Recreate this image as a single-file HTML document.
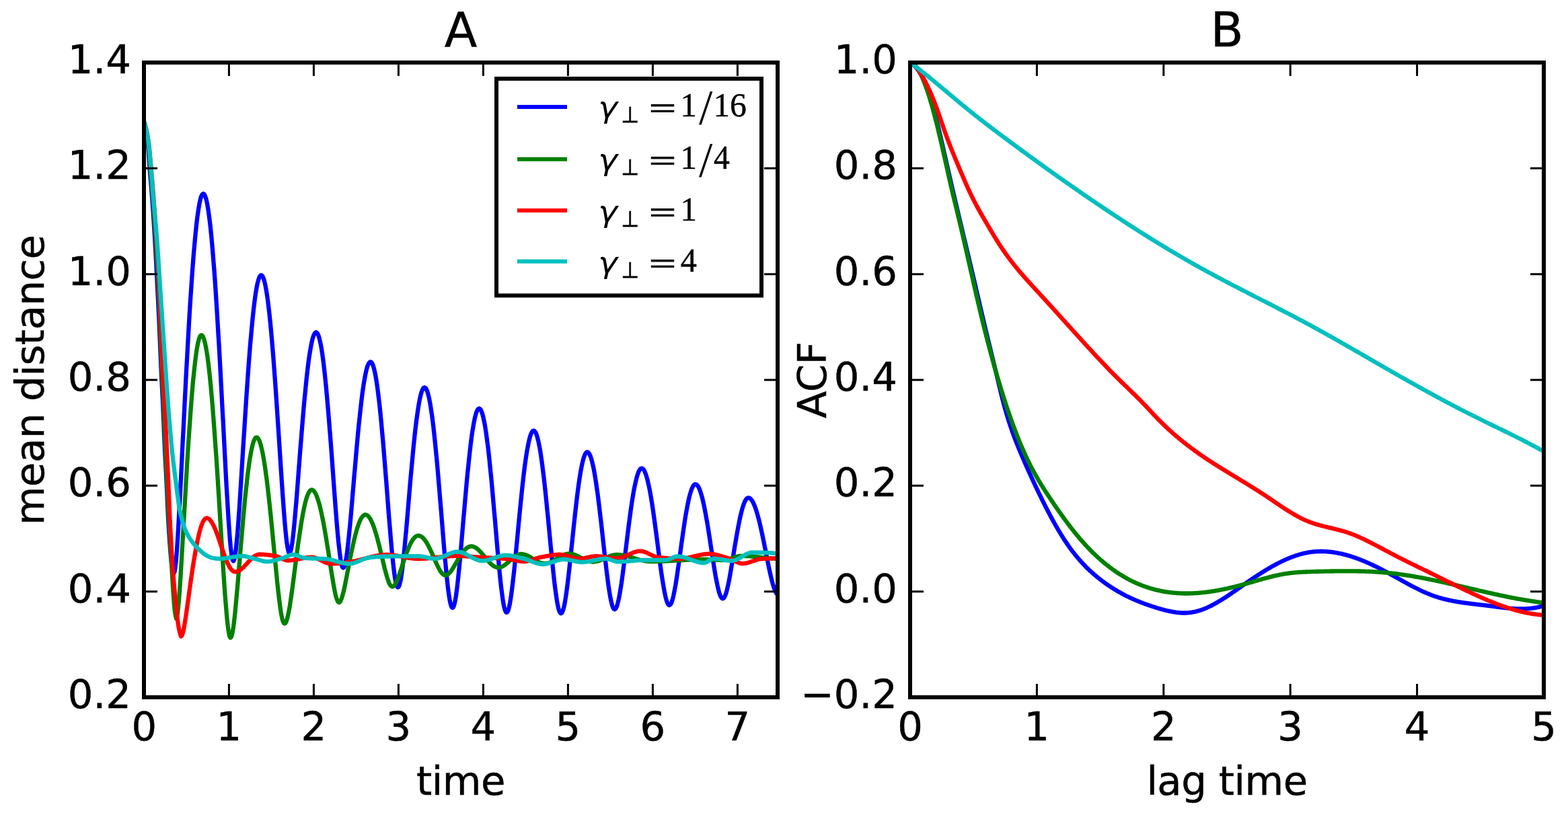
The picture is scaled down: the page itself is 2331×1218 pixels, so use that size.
<!DOCTYPE html>
<html lang="en">
<head>
<meta charset="utf-8">
<title>Mean distance and ACF</title>
<style>
html,body{margin:0;padding:0;background:#fff;}
body{width:2331px;height:1218px;overflow:hidden;}
svg{display:block;}
text{font-family:"DejaVu Sans", "Liberation Sans", sans-serif;fill:#000;}
.tk,.ttl{stroke:#000;stroke-width:0.5px;}
.lab{letter-spacing:-0.45px;}
.tk{font-size:59.2px;}
.ttl{font-size:71px;}
.sp{fill:none;stroke:#000;stroke-width:6;stroke-linejoin:miter;}
.t{stroke:#000;stroke-width:3;fill:none;}
.ls{font-family:"Liberation Serif","DejaVu Serif",serif;}
.lsi{font-family:"Liberation Serif","DejaVu Serif",serif;font-style:italic;}
.ds{font-family:"DejaVu Sans",sans-serif;}
.dso{font-family:"DejaVu Sans",sans-serif;font-style:italic;}
.dse{font-family:"DejaVu Serif","Liberation Serif",serif;}
.c{fill:none;stroke-width:6.3;stroke-linejoin:round;stroke-linecap:butt;}
</style>
</head>
<body>
<svg width="2331" height="1218" viewBox="0 0 2331 1218">
<rect x="0" y="0" width="2331" height="1218" fill="#ffffff"/>
<defs>
<clipPath id="clipA"><rect x="214" y="93" width="942" height="944"/></clipPath>
<clipPath id="clipB"><rect x="1353" y="93" width="942" height="944"/></clipPath>
</defs>
<g>
<g clip-path="url(#clipA)">
<path class="c" stroke="#0000ff" d="M214.0 181.0 L215.0 184.1 L216.0 188.2 L217.0 193.0 L218.0 198.7 L219.0 205.9 L220.0 215.1 L221.0 228.6 L222.0 243.5 L223.0 256.5 L224.0 268.2 L225.0 279.9 L226.0 292.3 L227.0 305.9 L228.0 320.4 L229.0 335.7 L230.0 351.8 L231.0 369.0 L232.0 387.7 L233.0 407.2 L234.0 426.8 L235.0 446.5 L236.0 466.8 L237.0 488.6 L238.0 512.7 L239.0 536.8 L240.0 558.3 L241.0 578.1 L242.0 598.2 L243.0 620.7 L244.0 645.5 L245.0 668.6 L246.0 687.8 L247.0 706.0 L248.0 726.6 L249.0 749.1 L250.0 769.9 L251.0 787.3 L252.0 802.9 L253.0 816.2 L254.0 828.4 L255.0 838.3 L256.0 844.4 L257.0 849.2 L258.4 852.5 L259.4 850.6 L260.4 845.1 L261.5 836.3 L262.5 824.6 L263.5 810.6 L264.5 794.7 L265.5 777.3 L266.5 758.7 L267.6 739.4 L268.6 719.4 L269.6 699.1 L270.6 678.6 L271.6 658.0 L272.7 637.4 L273.7 616.9 L274.7 596.7 L275.7 576.8 L276.7 557.1 L277.8 538.0 L278.8 519.2 L279.8 501.0 L280.8 483.3 L281.8 466.2 L282.8 449.7 L283.9 433.9 L284.9 418.8 L285.9 404.4 L286.9 390.8 L287.9 377.9 L289.0 365.8 L290.0 354.5 L291.0 344.1 L292.0 334.5 L293.0 325.7 L294.1 317.9 L295.1 310.9 L296.1 304.9 L297.1 299.7 L298.1 295.5 L299.1 292.2 L300.2 289.9 L301.2 288.5 L302.2 288.0 L303.2 288.5 L304.2 289.9 L305.2 292.2 L306.3 295.4 L307.3 299.5 L308.3 304.6 L309.3 310.5 L310.3 317.4 L311.3 325.1 L312.4 333.7 L313.4 343.1 L314.4 353.3 L315.4 364.4 L316.4 376.2 L317.4 388.9 L318.5 402.2 L319.5 416.3 L320.5 431.1 L321.5 446.5 L322.5 462.5 L323.5 479.1 L324.5 496.3 L325.6 514.0 L326.6 532.1 L327.6 550.6 L328.6 569.5 L329.6 588.6 L330.6 607.9 L331.7 627.4 L332.7 646.9 L333.7 666.4 L334.7 685.6 L335.7 704.6 L336.7 723.1 L337.8 740.9 L338.8 758.0 L339.8 774.0 L340.8 788.6 L341.8 801.8 L342.8 813.0 L343.9 822.2 L344.9 829.0 L345.9 833.1 L346.9 834.5 L347.9 833.2 L348.9 829.5 L349.9 823.5 L350.9 815.4 L351.9 805.4 L353.0 793.9 L354.0 781.1 L355.0 767.3 L356.0 752.6 L357.0 737.3 L358.0 721.5 L359.0 705.5 L360.0 689.3 L361.0 673.0 L362.0 656.7 L363.1 640.6 L364.1 624.6 L365.1 609.0 L366.1 593.6 L367.1 578.6 L368.1 564.1 L369.1 550.0 L370.1 536.4 L371.1 523.4 L372.1 511.0 L373.2 499.1 L374.2 487.9 L375.2 477.4 L376.2 467.6 L377.2 458.4 L378.2 450.0 L379.2 442.4 L380.2 435.5 L381.2 429.4 L382.2 424.1 L383.3 419.5 L384.3 415.8 L385.3 412.9 L386.3 410.9 L387.3 409.6 L388.3 409.2 L389.3 409.6 L390.3 410.8 L391.3 412.8 L392.3 415.6 L393.3 419.1 L394.3 423.5 L395.3 428.6 L396.3 434.5 L397.3 441.1 L398.3 448.4 L399.3 456.5 L400.3 465.2 L401.3 474.7 L402.3 484.8 L403.3 495.5 L404.3 506.8 L405.3 518.8 L406.3 531.2 L407.3 544.2 L408.3 557.7 L409.3 571.6 L410.3 585.8 L411.3 600.5 L412.3 615.4 L413.3 630.6 L414.3 645.9 L415.3 661.3 L416.3 676.8 L417.3 692.2 L418.3 707.4 L419.3 722.3 L420.3 736.8 L421.3 750.8 L422.3 764.0 L423.3 776.4 L424.3 787.7 L425.3 797.8 L426.3 806.3 L427.3 813.3 L428.3 818.3 L429.3 821.5 L430.3 822.5 L431.3 821.5 L432.3 818.7 L433.3 814.0 L434.4 807.7 L435.4 799.9 L436.4 790.8 L437.4 780.7 L438.4 769.7 L439.4 757.9 L440.5 745.6 L441.5 732.9 L442.5 719.9 L443.5 706.8 L444.5 693.5 L445.5 680.3 L446.5 667.3 L447.6 654.3 L448.6 641.6 L449.6 629.2 L450.6 617.2 L451.6 605.5 L452.6 594.3 L453.7 583.5 L454.7 573.2 L455.7 563.4 L456.7 554.2 L457.7 545.6 L458.7 537.6 L459.7 530.2 L460.8 523.5 L461.8 517.4 L462.8 512.0 L463.8 507.3 L464.8 503.3 L465.8 500.1 L466.9 497.5 L467.9 495.7 L468.9 494.6 L469.9 494.2 L470.9 494.6 L471.9 495.8 L472.9 497.7 L473.9 500.4 L474.9 503.9 L475.9 508.2 L477.0 513.2 L478.0 518.9 L479.0 525.4 L480.0 532.5 L481.0 540.4 L482.0 548.9 L483.0 558.0 L484.0 567.8 L485.0 578.1 L486.0 589.0 L487.0 600.4 L488.0 612.3 L489.0 624.6 L490.0 637.2 L491.1 650.3 L492.1 663.6 L493.1 677.1 L494.1 690.8 L495.1 704.5 L496.1 718.2 L497.1 731.9 L498.1 745.3 L499.1 758.5 L500.1 771.2 L501.1 783.4 L502.1 794.9 L503.1 805.6 L504.2 815.2 L505.2 823.8 L506.2 831.0 L507.2 836.8 L508.2 841.0 L509.2 843.6 L510.2 844.5 L511.2 843.7 L512.2 841.5 L513.2 837.8 L514.3 832.7 L515.3 826.4 L516.3 818.9 L517.3 810.4 L518.3 801.1 L519.3 791.1 L520.4 780.4 L521.4 769.3 L522.4 757.8 L523.4 746.0 L524.4 734.1 L525.4 722.0 L526.4 710.0 L527.5 698.1 L528.5 686.2 L529.5 674.6 L530.5 663.2 L531.5 652.1 L532.5 641.4 L533.5 631.0 L534.6 621.0 L535.6 611.5 L536.6 602.5 L537.6 593.9 L538.6 585.9 L539.6 578.5 L540.6 571.6 L541.7 565.4 L542.7 559.7 L543.7 554.7 L544.7 550.3 L545.7 546.6 L546.7 543.6 L547.8 541.2 L548.8 539.5 L549.8 538.4 L550.8 538.1 L551.8 538.5 L552.8 539.7 L553.9 541.6 L554.9 544.3 L555.9 547.7 L556.9 552.0 L557.9 556.9 L559.0 562.6 L560.0 568.9 L561.0 576.0 L562.0 583.7 L563.0 592.1 L564.1 601.1 L565.1 610.7 L566.1 620.8 L567.1 631.5 L568.1 642.7 L569.2 654.3 L570.2 666.2 L571.2 678.6 L572.2 691.2 L573.2 704.1 L574.3 717.1 L575.3 730.3 L576.3 743.4 L577.3 756.5 L578.3 769.5 L579.4 782.2 L580.4 794.6 L581.4 806.5 L582.4 817.8 L583.4 828.5 L584.5 838.3 L585.5 847.1 L586.5 854.9 L587.5 861.4 L588.5 866.6 L589.6 870.4 L590.6 872.7 L591.6 873.5 L592.6 872.8 L593.6 870.6 L594.6 867.1 L595.7 862.2 L596.7 856.2 L597.7 849.0 L598.7 840.8 L599.7 831.7 L600.7 821.9 L601.7 811.5 L602.7 800.5 L603.8 789.2 L604.8 777.5 L605.8 765.7 L606.8 753.7 L607.8 741.8 L608.8 729.8 L609.8 718.0 L610.8 706.4 L611.9 695.1 L612.9 684.0 L613.9 673.3 L614.9 663.0 L615.9 653.1 L616.9 643.7 L617.9 634.8 L618.9 626.5 L620.0 618.7 L621.0 611.5 L622.0 604.9 L623.0 599.0 L624.0 593.7 L625.0 589.1 L626.0 585.2 L627.0 582.0 L628.1 579.4 L629.1 577.6 L630.1 576.6 L631.1 576.2 L632.1 576.6 L633.1 577.6 L634.1 579.4 L635.2 582.0 L636.2 585.2 L637.2 589.1 L638.2 593.7 L639.2 599.0 L640.2 604.9 L641.2 611.5 L642.3 618.7 L643.3 626.5 L644.3 634.9 L645.3 643.9 L646.3 653.4 L647.3 663.4 L648.3 673.8 L649.4 684.7 L650.4 696.0 L651.4 707.6 L652.4 719.5 L653.4 731.7 L654.4 744.0 L655.5 756.5 L656.5 769.0 L657.5 781.6 L658.5 794.0 L659.5 806.3 L660.5 818.4 L661.5 830.1 L662.6 841.3 L663.6 852.0 L664.6 861.9 L665.6 871.1 L666.6 879.4 L667.6 886.6 L668.6 892.7 L669.7 897.6 L670.7 901.1 L671.7 903.3 L672.7 904.0 L673.7 903.3 L674.7 901.1 L675.7 897.6 L676.8 892.8 L677.8 886.7 L678.8 879.5 L679.8 871.4 L680.8 862.3 L681.8 852.5 L682.9 842.1 L683.9 831.2 L684.9 819.9 L685.9 808.3 L686.9 796.5 L687.9 784.5 L688.9 772.6 L690.0 760.7 L691.0 749.0 L692.0 737.4 L693.0 726.1 L694.0 715.0 L695.0 704.4 L696.1 694.1 L697.1 684.2 L698.1 674.8 L699.1 666.0 L700.1 657.6 L701.1 649.9 L702.1 642.7 L703.2 636.2 L704.2 630.2 L705.2 625.0 L706.2 620.4 L707.2 616.5 L708.2 613.2 L709.3 610.7 L710.3 608.9 L711.3 607.9 L712.3 607.5 L713.3 607.9 L714.3 608.9 L715.4 610.8 L716.4 613.3 L717.4 616.5 L718.4 620.4 L719.4 625.1 L720.5 630.3 L721.5 636.3 L722.5 642.9 L723.5 650.1 L724.5 657.9 L725.6 666.2 L726.6 675.1 L727.6 684.5 L728.6 694.4 L729.6 704.6 L730.7 715.3 L731.7 726.4 L732.7 737.7 L733.7 749.2 L734.7 761.0 L735.8 772.8 L736.8 784.7 L737.8 796.6 L738.8 808.4 L739.8 820.0 L740.9 831.4 L741.9 842.4 L742.9 852.9 L743.9 862.9 L744.9 872.2 L746.0 880.7 L747.0 888.4 L748.0 895.1 L749.0 900.7 L750.0 905.1 L751.1 908.4 L752.1 910.3 L753.1 911.0 L754.1 910.4 L755.1 908.7 L756.1 905.8 L757.1 901.8 L758.1 896.8 L759.1 890.8 L760.1 884.0 L761.1 876.4 L762.1 868.1 L763.1 859.2 L764.2 849.8 L765.2 840.0 L766.2 829.9 L767.2 819.5 L768.2 809.0 L769.2 798.4 L770.2 787.8 L771.2 777.2 L772.2 766.8 L773.2 756.5 L774.2 746.4 L775.2 736.5 L776.2 727.0 L777.2 717.8 L778.2 709.0 L779.2 700.7 L780.2 692.7 L781.2 685.3 L782.2 678.4 L783.2 671.9 L784.3 666.1 L785.3 660.8 L786.3 656.1 L787.3 651.9 L788.3 648.4 L789.3 645.6 L790.3 643.3 L791.3 641.7 L792.3 640.7 L793.3 640.4 L794.3 640.7 L795.3 641.7 L796.4 643.4 L797.4 645.7 L798.4 648.7 L799.4 652.4 L800.4 656.6 L801.4 661.5 L802.5 667.0 L803.5 673.0 L804.5 679.7 L805.5 686.8 L806.5 694.5 L807.5 702.6 L808.6 711.2 L809.6 720.2 L810.6 729.6 L811.6 739.3 L812.6 749.4 L813.6 759.6 L814.7 770.1 L815.7 780.6 L816.7 791.3 L817.7 802.0 L818.7 812.6 L819.8 823.1 L820.8 833.4 L821.8 843.4 L822.8 853.1 L823.8 862.3 L824.8 871.0 L825.9 879.0 L826.9 886.4 L827.9 893.0 L828.9 898.7 L829.9 903.5 L830.9 907.3 L832.0 910.1 L833.0 911.7 L834.0 912.3 L835.0 911.8 L836.0 910.2 L837.0 907.7 L838.0 904.2 L839.0 899.7 L840.0 894.4 L841.0 888.3 L842.0 881.5 L843.0 874.1 L844.0 866.1 L845.0 857.6 L846.0 848.8 L847.0 839.6 L848.0 830.2 L849.0 820.7 L850.0 811.1 L851.0 801.4 L852.0 791.8 L853.0 782.2 L854.0 772.9 L855.0 763.7 L856.0 754.8 L857.0 746.1 L858.0 737.8 L859.0 729.9 L860.0 722.4 L861.0 715.3 L862.0 708.7 L863.0 702.6 L864.0 696.9 L865.0 691.9 L866.0 687.4 L867.0 683.4 L868.0 680.0 L869.0 677.3 L870.0 675.1 L871.0 673.5 L872.0 672.6 L873.0 672.3 L874.0 672.6 L875.0 673.5 L876.1 674.9 L877.1 676.9 L878.1 679.5 L879.1 682.6 L880.1 686.3 L881.1 690.5 L882.2 695.2 L883.2 700.4 L884.2 706.1 L885.2 712.2 L886.2 718.8 L887.2 725.9 L888.3 733.3 L889.3 741.0 L890.3 749.1 L891.3 757.5 L892.3 766.1 L893.4 774.9 L894.4 783.9 L895.4 793.0 L896.4 802.2 L897.4 811.3 L898.4 820.5 L899.5 829.5 L900.5 838.4 L901.5 847.0 L902.5 855.3 L903.5 863.2 L904.5 870.7 L905.6 877.7 L906.6 884.0 L907.6 889.7 L908.6 894.6 L909.6 898.7 L910.6 902.0 L911.7 904.4 L912.7 905.8 L913.7 906.3 L914.7 905.9 L915.7 904.6 L916.7 902.5 L917.7 899.5 L918.7 895.8 L919.7 891.4 L920.7 886.3 L921.7 880.6 L922.7 874.4 L923.8 867.7 L924.8 860.6 L925.8 853.1 L926.8 845.4 L927.8 837.4 L928.8 829.3 L929.8 821.1 L930.8 812.9 L931.8 804.7 L932.8 796.5 L933.8 788.4 L934.8 780.5 L935.8 772.8 L936.8 765.3 L937.8 758.0 L938.8 751.1 L939.8 744.4 L940.8 738.2 L941.8 732.2 L942.8 726.7 L943.9 721.6 L944.9 716.9 L945.9 712.7 L946.9 708.9 L947.9 705.6 L948.9 702.8 L949.9 700.5 L950.9 698.7 L951.9 697.4 L952.9 696.7 L953.9 696.4 L954.9 696.6 L955.9 697.4 L956.9 698.5 L957.9 700.2 L958.9 702.3 L959.9 704.9 L960.9 708.0 L961.9 711.5 L962.9 715.4 L963.9 719.7 L965.0 724.4 L966.0 729.5 L967.0 735.0 L968.0 740.9 L969.0 747.0 L970.0 753.5 L971.0 760.3 L972.0 767.3 L973.0 774.5 L974.0 781.9 L975.0 789.5 L976.0 797.2 L977.0 804.9 L978.0 812.7 L979.0 820.5 L980.0 828.2 L981.0 835.8 L982.0 843.3 L983.0 850.6 L984.0 857.5 L985.1 864.2 L986.1 870.4 L987.1 876.2 L988.1 881.5 L989.1 886.2 L990.1 890.3 L991.1 893.7 L992.1 896.5 L993.1 898.4 L994.1 899.6 L995.1 900.0 L996.1 899.6 L997.1 898.4 L998.2 896.4 L999.2 893.6 L1000.2 890.1 L1001.2 885.9 L1002.2 881.1 L1003.2 875.8 L1004.3 870.0 L1005.3 863.7 L1006.3 857.1 L1007.3 850.2 L1008.3 843.1 L1009.4 835.9 L1010.4 828.5 L1011.4 821.1 L1012.4 813.6 L1013.4 806.3 L1014.5 799.0 L1015.5 791.8 L1016.5 784.9 L1017.5 778.1 L1018.5 771.6 L1019.5 765.4 L1020.6 759.5 L1021.6 754.0 L1022.6 748.8 L1023.6 744.0 L1024.6 739.5 L1025.7 735.5 L1026.7 732.0 L1027.7 728.9 L1028.7 726.2 L1029.7 724.0 L1030.7 722.3 L1031.8 721.1 L1032.8 720.3 L1033.8 720.1 L1034.8 720.3 L1035.8 720.9 L1036.8 722.0 L1037.9 723.4 L1038.9 725.3 L1039.9 727.6 L1040.9 730.3 L1041.9 733.3 L1042.9 736.7 L1044.0 740.5 L1045.0 744.7 L1046.0 749.2 L1047.0 754.0 L1048.0 759.1 L1049.0 764.4 L1050.0 770.1 L1051.1 776.0 L1052.1 782.0 L1053.1 788.3 L1054.1 794.7 L1055.1 801.3 L1056.1 807.9 L1057.1 814.6 L1058.2 821.2 L1059.2 827.9 L1060.2 834.5 L1061.2 840.9 L1062.2 847.2 L1063.2 853.2 L1064.2 859.0 L1065.3 864.4 L1066.3 869.5 L1067.3 874.1 L1068.3 878.2 L1069.3 881.8 L1070.3 884.8 L1071.4 887.2 L1072.4 888.9 L1073.4 890.0 L1074.4 890.3 L1075.4 890.0 L1076.4 888.9 L1077.4 887.3 L1078.4 884.9 L1079.4 882.0 L1080.4 878.6 L1081.4 874.6 L1082.4 870.1 L1083.4 865.3 L1084.4 860.1 L1085.4 854.6 L1086.4 848.8 L1087.4 842.9 L1088.4 836.8 L1089.4 830.7 L1090.4 824.5 L1091.4 818.3 L1092.4 812.1 L1093.5 806.1 L1094.5 800.1 L1095.5 794.3 L1096.5 788.7 L1097.5 783.3 L1098.5 778.1 L1099.5 773.2 L1100.5 768.5 L1101.5 764.2 L1102.5 760.2 L1103.5 756.5 L1104.5 753.2 L1105.5 750.2 L1106.5 747.6 L1107.5 745.4 L1108.5 743.6 L1109.5 742.1 L1110.5 741.1 L1111.5 740.5 L1112.5 740.3 L1113.5 740.4 L1114.5 740.9 L1115.5 741.6 L1116.5 742.5 L1117.5 743.8 L1118.5 745.3 L1119.5 747.1 L1120.5 749.2 L1121.5 751.5 L1122.5 754.1 L1123.5 756.9 L1124.5 760.0 L1125.5 763.3 L1126.5 766.8 L1127.5 770.5 L1128.5 774.4 L1129.5 778.5 L1130.5 782.8 L1131.5 787.2 L1132.5 791.8 L1133.5 796.5 L1134.5 801.3 L1135.5 806.2 L1136.5 811.2 L1137.5 816.2 L1138.5 821.2 L1139.5 826.3 L1140.5 831.3 L1141.5 836.3 L1142.5 841.2 L1143.5 846.0 L1144.5 850.6 L1145.5 855.1 L1146.5 859.4 L1147.5 863.5 L1148.5 867.3 L1149.5 870.8 L1150.5 874.0 L1151.5 876.8 L1152.5 879.3 L1153.5 881.3 L1154.5 882.9 L1155.5 884.1 L1156.5 884.8 L1157.5 885.0 L1158.6 884.1 L1159.8 882.2 L1160.9 880.6 L1162.0 880.0"/>
<path class="c" stroke="#008000" d="M214.0 181.0 L215.0 183.9 L216.0 187.6 L217.0 192.0 L218.0 197.2 L219.0 203.5 L220.0 211.0 L221.0 220.6 L222.0 232.2 L223.0 244.4 L224.0 256.0 L225.0 267.3 L226.0 278.8 L227.0 291.0 L228.0 304.3 L229.0 318.6 L230.0 333.6 L231.0 349.0 L232.0 364.6 L233.0 380.1 L234.0 396.3 L235.0 414.2 L236.0 434.9 L237.0 459.0 L238.0 484.4 L239.0 512.0 L240.0 538.9 L241.0 560.1 L242.0 578.0 L243.0 596.4 L244.0 618.8 L245.0 645.7 L246.0 670.9 L247.0 691.9 L248.0 711.8 L249.0 732.3 L250.0 752.6 L251.0 771.8 L252.0 789.3 L253.0 805.7 L254.0 821.8 L255.0 838.5 L256.0 856.0 L257.0 872.6 L258.0 887.0 L259.0 900.2 L260.0 910.0 L261.9 920.0 L262.9 918.1 L263.9 912.6 L264.9 903.9 L266.0 892.6 L267.0 879.1 L268.0 864.2 L269.0 848.0 L270.0 831.1 L271.0 813.7 L272.0 795.9 L273.0 778.0 L274.1 760.1 L275.1 742.4 L276.1 724.9 L277.1 707.6 L278.1 690.8 L279.1 674.4 L280.1 658.5 L281.2 643.1 L282.2 628.4 L283.2 614.3 L284.2 600.8 L285.2 588.1 L286.2 576.1 L287.2 564.9 L288.3 554.5 L289.3 545.0 L290.3 536.2 L291.3 528.4 L292.3 521.4 L293.3 515.3 L294.3 510.1 L295.3 505.9 L296.4 502.6 L297.4 500.2 L298.4 498.8 L299.4 498.3 L300.4 498.7 L301.4 499.9 L302.4 502.0 L303.4 504.8 L304.4 508.5 L305.4 512.9 L306.4 518.2 L307.5 524.2 L308.5 531.0 L309.5 538.5 L310.5 546.8 L311.5 555.8 L312.5 565.5 L313.5 575.9 L314.5 587.0 L315.5 598.7 L316.5 611.0 L317.5 623.9 L318.5 637.3 L319.5 651.3 L320.5 665.7 L321.6 680.6 L322.6 695.8 L323.6 711.5 L324.6 727.4 L325.6 743.5 L326.6 759.9 L327.6 776.3 L328.6 792.7 L329.6 809.1 L330.6 825.3 L331.6 841.2 L332.6 856.6 L333.6 871.5 L334.6 885.7 L335.7 898.9 L336.7 911.1 L337.7 921.8 L338.7 931.1 L339.7 938.5 L340.7 944.0 L341.7 947.4 L342.7 948.5 L343.7 947.5 L344.7 944.7 L345.7 940.1 L346.8 933.9 L347.8 926.3 L348.8 917.4 L349.8 907.6 L350.8 897.0 L351.8 885.8 L352.9 874.1 L353.9 862.1 L354.9 849.9 L355.9 837.6 L356.9 825.3 L357.9 813.1 L359.0 801.0 L360.0 789.1 L361.0 777.5 L362.0 766.1 L363.0 755.2 L364.0 744.6 L365.0 734.5 L366.1 724.8 L367.1 715.6 L368.1 706.9 L369.1 698.8 L370.1 691.3 L371.1 684.3 L372.2 678.0 L373.2 672.3 L374.2 667.2 L375.2 662.8 L376.2 659.0 L377.2 655.9 L378.3 653.5 L379.3 651.8 L380.3 650.7 L381.3 650.4 L382.3 650.7 L383.3 651.6 L384.4 653.0 L385.4 655.1 L386.4 657.7 L387.4 660.9 L388.4 664.7 L389.4 669.0 L390.5 673.9 L391.5 679.3 L392.5 685.2 L393.5 691.6 L394.5 698.5 L395.5 705.9 L396.6 713.7 L397.6 722.0 L398.6 730.6 L399.6 739.6 L400.6 749.0 L401.6 758.6 L402.7 768.5 L403.7 778.7 L404.7 789.1 L405.7 799.5 L406.7 810.1 L407.7 820.7 L408.8 831.3 L409.8 841.8 L410.8 852.1 L411.8 862.2 L412.8 871.9 L413.8 881.2 L414.9 890.0 L415.9 898.1 L416.9 905.4 L417.9 911.9 L418.9 917.3 L419.9 921.7 L421.0 924.9 L422.0 926.8 L423.0 927.5 L424.0 927.0 L425.0 925.5 L426.0 923.1 L427.0 919.8 L428.0 915.7 L429.0 910.9 L430.1 905.4 L431.1 899.3 L432.1 892.8 L433.1 885.8 L434.1 878.6 L435.1 871.1 L436.1 863.5 L437.1 855.7 L438.1 847.9 L439.1 840.1 L440.1 832.3 L441.1 824.7 L442.1 817.1 L443.1 809.7 L444.2 802.5 L445.2 795.5 L446.2 788.8 L447.2 782.3 L448.2 776.1 L449.2 770.2 L450.2 764.7 L451.2 759.5 L452.2 754.7 L453.2 750.2 L454.2 746.1 L455.2 742.5 L456.2 739.2 L457.3 736.4 L458.3 733.9 L459.3 731.9 L460.3 730.4 L461.3 729.3 L462.3 728.6 L463.3 728.4 L464.3 728.6 L465.3 729.1 L466.3 730.0 L467.4 731.2 L468.4 732.7 L469.4 734.6 L470.4 736.9 L471.4 739.4 L472.4 742.3 L473.4 745.5 L474.5 749.1 L475.5 752.9 L476.5 757.0 L477.5 761.4 L478.5 766.1 L479.5 771.0 L480.6 776.2 L481.6 781.6 L482.6 787.2 L483.6 793.1 L484.6 799.1 L485.6 805.3 L486.6 811.6 L487.7 818.0 L488.7 824.5 L489.7 831.1 L490.7 837.7 L491.7 844.2 L492.7 850.7 L493.8 857.1 L494.8 863.2 L495.8 869.1 L496.8 874.7 L497.8 879.8 L498.8 884.4 L499.8 888.4 L500.9 891.6 L501.9 894.0 L502.9 895.5 L503.9 896.0 L504.9 895.6 L505.9 894.4 L506.9 892.4 L507.9 889.8 L508.9 886.6 L509.9 882.8 L511.0 878.7 L512.0 874.2 L513.0 869.4 L514.0 864.4 L515.0 859.3 L516.0 854.1 L517.0 848.9 L518.0 843.6 L519.0 838.4 L520.0 833.2 L521.0 828.1 L522.0 823.1 L523.0 818.2 L524.1 813.5 L525.1 808.9 L526.1 804.5 L527.1 800.3 L528.1 796.3 L529.1 792.5 L530.1 788.9 L531.1 785.5 L532.1 782.4 L533.1 779.5 L534.1 776.9 L535.1 774.5 L536.1 772.4 L537.2 770.6 L538.2 769.1 L539.2 767.8 L540.2 766.8 L541.2 766.1 L542.2 765.6 L543.2 765.5 L544.2 765.6 L545.2 766.0 L546.3 766.6 L547.3 767.5 L548.3 768.6 L549.3 770.0 L550.4 771.6 L551.4 773.4 L552.4 775.5 L553.4 777.8 L554.5 780.3 L555.5 783.0 L556.5 786.0 L557.5 789.1 L558.5 792.4 L559.6 795.9 L560.6 799.5 L561.6 803.3 L562.6 807.2 L563.7 811.2 L564.7 815.3 L565.7 819.6 L566.7 823.8 L567.8 828.1 L568.8 832.4 L569.8 836.7 L570.8 841.0 L571.8 845.1 L572.9 849.1 L573.9 853.0 L574.9 856.6 L575.9 860.0 L577.0 863.1 L578.0 865.9 L579.0 868.2 L580.0 870.0 L581.1 871.4 L582.1 872.2 L583.1 872.5 L584.1 872.3 L585.1 871.7 L586.2 870.7 L587.2 869.3 L588.2 867.5 L589.2 865.5 L590.2 863.2 L591.3 860.7 L592.3 858.0 L593.3 855.2 L594.3 852.2 L595.4 849.2 L596.4 846.1 L597.4 842.9 L598.4 839.8 L599.4 836.7 L600.5 833.6 L601.5 830.6 L602.5 827.6 L603.5 824.7 L604.5 821.9 L605.6 819.2 L606.6 816.6 L607.6 814.2 L608.6 811.9 L609.6 809.7 L610.7 807.7 L611.7 805.8 L612.7 804.1 L613.7 802.5 L614.8 801.2 L615.8 800.0 L616.8 798.9 L617.8 798.1 L618.8 797.4 L619.9 797.0 L620.9 796.7 L621.9 796.6 L622.9 796.7 L623.9 796.9 L624.9 797.3 L625.9 797.8 L626.9 798.4 L627.9 799.2 L628.9 800.1 L629.9 801.2 L630.9 802.4 L631.9 803.7 L632.9 805.1 L633.9 806.7 L634.9 808.3 L635.9 810.1 L636.9 811.9 L637.9 813.9 L638.9 815.9 L639.9 818.0 L640.9 820.2 L642.0 822.4 L643.0 824.7 L644.0 827.0 L645.0 829.3 L646.0 831.6 L647.0 833.9 L648.0 836.2 L649.0 838.4 L650.0 840.6 L651.0 842.7 L652.0 844.7 L653.0 846.5 L654.0 848.3 L655.0 849.9 L656.0 851.3 L657.0 852.6 L658.0 853.6 L659.0 854.4 L660.0 855.0 L661.0 855.4 L662.0 855.5 L663.0 855.4 L664.0 855.1 L665.0 854.6 L666.1 854.0 L667.1 853.1 L668.1 852.1 L669.1 851.0 L670.1 849.7 L671.1 848.3 L672.2 846.8 L673.2 845.3 L674.2 843.6 L675.2 841.9 L676.2 840.2 L677.2 838.4 L678.3 836.6 L679.3 834.9 L680.3 833.1 L681.3 831.4 L682.3 829.6 L683.3 828.0 L684.3 826.4 L685.4 824.8 L686.4 823.3 L687.4 821.9 L688.4 820.6 L689.4 819.4 L690.4 818.2 L691.5 817.1 L692.5 816.2 L693.5 815.3 L694.5 814.6 L695.5 814.0 L696.5 813.4 L697.6 813.0 L698.6 812.7 L699.6 812.6 L700.6 812.5 L701.6 812.5 L702.6 812.7 L703.6 812.9 L704.6 813.3 L705.6 813.7 L706.6 814.2 L707.6 814.8 L708.6 815.5 L709.6 816.3 L710.6 817.1 L711.6 818.0 L712.6 819.0 L713.6 820.0 L714.6 821.1 L715.6 822.2 L716.6 823.4 L717.6 824.6 L718.6 825.8 L719.6 827.0 L720.7 828.2 L721.7 829.5 L722.7 830.7 L723.7 831.9 L724.7 833.1 L725.7 834.3 L726.7 835.4 L727.7 836.5 L728.7 837.5 L729.7 838.5 L730.7 839.4 L731.7 840.2 L732.7 841.0 L733.7 841.7 L734.7 842.3 L735.7 842.8 L736.7 843.2 L737.7 843.6 L738.7 843.8 L739.7 844.0 L740.7 844.0 L741.7 844.0 L742.7 843.8 L743.7 843.6 L744.7 843.3 L745.7 843.0 L746.7 842.5 L747.7 842.0 L748.7 841.4 L749.7 840.7 L750.7 840.0 L751.7 839.3 L752.7 838.5 L753.7 837.6 L754.7 836.7 L755.7 835.8 L756.7 834.9 L757.7 834.0 L758.7 833.1 L759.7 832.2 L760.7 831.3 L761.7 830.4 L762.7 829.5 L763.7 828.7 L764.7 828.0 L765.7 827.3 L766.7 826.6 L767.7 826.0 L768.7 825.5 L769.7 825.0 L770.7 824.7 L771.7 824.4 L772.7 824.2 L773.7 824.0 L774.7 824.0 L775.7 824.0 L776.7 824.1 L777.7 824.3 L778.7 824.4 L779.7 824.7 L780.8 825.0 L781.8 825.3 L782.8 825.7 L783.8 826.2 L784.8 826.6 L785.8 827.1 L786.8 827.7 L787.8 828.2 L788.8 828.8 L789.8 829.4 L790.8 830.1 L791.8 830.7 L792.9 831.3 L793.9 831.9 L794.9 832.6 L795.9 833.2 L796.9 833.8 L797.9 834.3 L798.9 834.9 L799.9 835.4 L800.9 835.8 L801.9 836.3 L802.9 836.7 L803.9 837.0 L805.0 837.3 L806.0 837.6 L807.0 837.7 L808.0 837.9 L809.0 838.0 L810.0 838.0 L811.0 838.0 L812.0 837.9 L813.1 837.7 L814.1 837.5 L815.1 837.3 L816.1 837.0 L817.2 836.6 L818.2 836.2 L819.2 835.8 L820.2 835.3 L821.3 834.7 L822.3 834.2 L823.3 833.6 L824.3 833.0 L825.3 832.4 L826.4 831.7 L827.4 831.1 L828.4 830.4 L829.4 829.8 L830.5 829.1 L831.5 828.5 L832.5 827.9 L833.5 827.3 L834.5 826.8 L835.6 826.2 L836.6 825.7 L837.6 825.3 L838.6 824.9 L839.7 824.5 L840.7 824.2 L841.7 824.0 L842.7 823.8 L843.8 823.6 L844.8 823.5 L845.8 823.5 L846.8 823.5 L847.8 823.6 L848.8 823.7 L849.8 823.9 L850.8 824.1 L851.8 824.3 L852.8 824.6 L853.8 824.9 L854.8 825.3 L855.8 825.6 L856.8 826.1 L857.8 826.5 L858.8 827.0 L859.8 827.4 L860.8 827.9 L861.8 828.5 L862.8 829.0 L863.8 829.5 L864.8 830.0 L865.8 830.5 L866.8 831.1 L867.8 831.6 L868.8 832.0 L869.8 832.5 L870.8 832.9 L871.8 833.4 L872.8 833.7 L873.8 834.1 L874.8 834.4 L875.8 834.7 L876.8 834.9 L877.8 835.1 L878.8 835.3 L879.8 835.4 L880.8 835.5 L881.8 835.5 L882.8 835.5 L883.8 835.4 L884.8 835.3 L885.8 835.2 L886.8 835.0 L887.8 834.8 L888.8 834.5 L889.8 834.2 L890.8 833.9 L891.8 833.5 L892.8 833.1 L893.8 832.7 L894.8 832.3 L895.8 831.9 L896.8 831.4 L897.8 831.0 L898.8 830.5 L899.8 830.0 L900.8 829.5 L901.8 829.1 L902.8 828.6 L903.8 828.2 L904.8 827.8 L905.8 827.4 L906.8 827.0 L907.8 826.6 L908.8 826.3 L909.8 826.0 L910.8 825.7 L911.8 825.5 L912.8 825.3 L913.8 825.2 L914.8 825.1 L915.8 825.0 L916.8 825.0 L917.8 825.0 L918.8 825.0 L919.8 825.1 L920.8 825.2 L921.8 825.2 L922.8 825.3 L923.8 825.5 L924.8 825.6 L925.8 825.7 L926.8 825.9 L927.8 826.1 L928.8 826.3 L929.9 826.5 L930.9 826.7 L931.9 827.0 L932.9 827.2 L933.9 827.5 L934.9 827.8 L935.9 828.1 L936.9 828.3 L937.9 828.6 L938.9 828.9 L939.9 829.2 L940.9 829.5 L941.9 829.8 L942.9 830.2 L943.9 830.5 L944.9 830.8 L945.9 831.1 L946.9 831.4 L947.9 831.7 L948.9 831.9 L949.9 832.2 L950.9 832.5 L951.9 832.8 L952.9 833.0 L953.9 833.3 L954.9 833.5 L956.0 833.7 L957.0 833.9 L958.0 834.1 L959.0 834.3 L960.0 834.4 L961.0 834.5 L962.0 834.7 L963.0 834.8 L964.0 834.8 L965.0 834.9 L966.0 835.0 L967.0 835.0 L968.0 835.0 L969.0 835.0 L970.0 835.0 L971.0 835.0 L972.0 835.0 L973.0 835.0 L974.0 835.0 L975.1 834.9 L976.1 834.9 L977.1 834.9 L978.1 834.9 L979.1 834.9 L980.1 834.8 L981.1 834.8 L982.1 834.8 L983.1 834.7 L984.1 834.7 L985.1 834.7 L986.1 834.6 L987.1 834.6 L988.2 834.5 L989.2 834.5 L990.2 834.4 L991.2 834.4 L992.2 834.4 L993.2 834.3 L994.2 834.2 L995.2 834.2 L996.2 834.1 L997.2 834.1 L998.2 834.0 L999.2 834.0 L1000.2 833.9 L1001.3 833.9 L1002.3 833.8 L1003.3 833.7 L1004.3 833.7 L1005.3 833.6 L1006.3 833.6 L1007.3 833.5 L1008.3 833.4 L1009.3 833.4 L1010.3 833.3 L1011.3 833.3 L1012.3 833.2 L1013.3 833.1 L1014.4 833.1 L1015.4 833.0 L1016.4 833.0 L1017.4 832.9 L1018.4 832.9 L1019.4 832.8 L1020.4 832.8 L1021.4 832.7 L1022.4 832.6 L1023.4 832.6 L1024.4 832.6 L1025.4 832.5 L1026.4 832.5 L1027.5 832.4 L1028.5 832.4 L1029.5 832.3 L1030.5 832.3 L1031.5 832.3 L1032.5 832.2 L1033.5 832.2 L1034.5 832.2 L1035.5 832.1 L1036.5 832.1 L1037.5 832.1 L1038.5 832.1 L1039.5 832.1 L1040.6 832.0 L1041.6 832.0 L1042.6 832.0 L1043.6 832.0 L1044.6 832.0 L1045.6 832.0 L1046.6 832.0 L1047.6 832.0 L1048.6 832.0 L1049.6 832.0 L1050.7 832.0 L1051.7 832.1 L1052.7 832.1 L1053.7 832.1 L1054.7 832.2 L1055.7 832.2 L1056.7 832.3 L1057.8 832.3 L1058.8 832.4 L1059.8 832.4 L1060.8 832.5 L1061.8 832.6 L1062.8 832.6 L1063.8 832.7 L1064.9 832.7 L1065.9 832.8 L1066.9 832.8 L1067.9 832.9 L1068.9 832.9 L1069.9 832.9 L1070.9 833.0 L1072.0 833.0 L1073.0 833.0 L1074.0 833.0 L1075.0 833.0 L1076.0 833.0 L1077.0 832.9 L1078.0 832.8 L1079.0 832.7 L1080.0 832.5 L1081.0 832.3 L1082.1 832.0 L1083.1 831.8 L1084.1 831.5 L1085.1 831.1 L1086.1 830.8 L1087.1 830.4 L1088.1 830.1 L1089.1 829.7 L1090.1 829.4 L1091.1 829.0 L1092.1 828.7 L1093.1 828.4 L1094.1 828.0 L1095.1 827.8 L1096.2 827.5 L1097.2 827.3 L1098.2 827.1 L1099.2 827.0 L1100.2 826.9 L1101.2 826.8 L1102.2 826.8 L1103.2 826.8 L1104.2 826.8 L1105.2 826.8 L1106.3 826.9 L1107.3 826.9 L1108.3 826.9 L1109.3 827.0 L1110.3 827.0 L1111.3 827.1 L1112.3 827.1 L1113.4 827.2 L1114.4 827.2 L1115.4 827.3 L1116.4 827.4 L1117.4 827.5 L1118.4 827.6 L1119.4 827.7 L1120.5 827.8 L1121.5 827.8 L1122.5 828.0 L1123.5 828.1 L1124.5 828.2 L1125.5 828.3 L1126.5 828.4 L1127.6 828.5 L1128.6 828.6 L1129.6 828.7 L1130.6 828.8 L1131.6 829.0 L1132.6 829.1 L1133.6 829.2 L1134.6 829.3 L1135.7 829.4 L1136.7 829.5 L1137.7 829.6 L1138.7 829.7 L1139.7 829.8 L1140.7 829.9 L1141.7 830.0 L1142.8 830.1 L1143.8 830.2 L1144.8 830.3 L1145.8 830.4 L1146.8 830.5 L1147.8 830.6 L1148.8 830.6 L1149.9 830.7 L1150.9 830.7 L1151.9 830.8 L1152.9 830.8 L1153.9 830.9 L1154.9 830.9 L1155.9 830.9 L1157.0 831.0 L1158.0 831.0 L1159.0 831.0 L1160.0 831.0"/>
<path class="c" stroke="#ff0000" d="M214.0 181.0 L215.0 183.7 L216.0 187.0 L217.0 190.8 L218.0 195.0 L219.0 199.9 L220.0 205.7 L221.0 212.5 L222.0 221.4 L223.0 232.1 L224.0 243.5 L225.0 254.8 L226.0 266.3 L227.0 278.4 L228.0 291.0 L229.0 304.3 L230.0 318.2 L231.0 332.8 L232.0 347.7 L233.0 362.8 L234.0 377.8 L235.0 393.3 L236.0 410.4 L237.0 430.7 L238.0 455.5 L239.0 481.8 L240.0 509.7 L241.0 536.8 L242.0 557.3 L243.0 574.0 L244.0 589.7 L245.0 606.8 L246.0 626.5 L247.0 647.4 L248.0 668.6 L249.0 689.8 L250.0 711.8 L251.0 736.0 L252.0 760.6 L253.0 781.4 L254.0 800.0 L255.0 817.1 L256.0 832.9 L257.0 847.3 L258.0 860.5 L259.0 872.7 L260.0 883.9 L261.0 894.2 L262.0 903.7 L263.0 913.0 L264.0 921.6 L265.0 929.1 L266.0 935.0 L267.0 939.7 L268.0 943.5 L269.1 946.5 L270.1 945.8 L271.1 943.6 L272.1 940.1 L273.1 935.6 L274.1 930.2 L275.1 924.2 L276.1 917.7 L277.1 910.9 L278.1 903.9 L279.1 896.7 L280.1 889.4 L281.1 882.1 L282.1 874.9 L283.1 867.7 L284.1 860.7 L285.1 853.8 L286.1 847.0 L287.1 840.5 L288.1 834.1 L289.2 828.0 L290.2 822.1 L291.2 816.5 L292.2 811.2 L293.2 806.1 L294.2 801.4 L295.2 796.9 L296.2 792.8 L297.2 789.0 L298.2 785.5 L299.2 782.4 L300.2 779.6 L301.2 777.2 L302.2 775.2 L303.2 773.5 L304.2 772.2 L305.2 771.3 L306.2 770.7 L307.2 770.5 L308.2 770.6 L309.2 770.9 L310.2 771.5 L311.2 772.3 L312.2 773.3 L313.2 774.5 L314.2 775.8 L315.2 777.4 L316.2 779.2 L317.2 781.2 L318.3 783.3 L319.3 785.5 L320.3 787.9 L321.3 790.4 L322.3 793.1 L323.3 795.8 L324.3 798.6 L325.3 801.5 L326.3 804.5 L327.3 807.4 L328.3 810.4 L329.3 813.4 L330.3 816.3 L331.3 819.3 L332.3 822.2 L333.3 825.0 L334.3 827.7 L335.3 830.3 L336.3 832.9 L337.3 835.3 L338.3 837.5 L339.4 839.6 L340.4 841.6 L341.4 843.4 L342.4 845.0 L343.4 846.3 L344.4 847.5 L345.4 848.5 L346.4 849.3 L347.4 849.9 L348.4 850.2 L349.4 850.3 L350.4 850.3 L351.4 850.1 L352.4 849.9 L353.5 849.5 L354.5 849.1 L355.5 848.6 L356.5 848.0 L357.5 847.3 L358.5 846.5 L359.6 845.7 L360.6 844.8 L361.6 843.9 L362.6 842.9 L363.6 841.8 L364.6 840.7 L365.7 839.6 L366.7 838.5 L367.7 837.4 L368.7 836.3 L369.7 835.2 L370.8 834.1 L371.8 833.0 L372.8 831.9 L373.8 831.0 L374.8 830.0 L375.8 829.1 L376.9 828.3 L377.9 827.5 L378.9 826.8 L379.9 826.2 L380.9 825.7 L381.9 825.3 L382.9 824.9 L384.0 824.7 L385.0 824.5 L386.0 824.5 L387.0 824.5 L388.0 824.5 L389.0 824.6 L390.0 824.6 L391.0 824.6 L392.0 824.7 L393.0 824.8 L394.0 824.9 L395.0 824.9 L396.0 825.0 L397.0 825.1 L398.0 825.2 L399.0 825.4 L400.0 825.5 L401.0 825.6 L402.0 825.7 L403.0 825.9 L404.0 826.0 L405.0 826.2 L406.0 826.3 L407.0 826.5 L408.0 826.6 L409.0 826.8 L410.0 827.0 L411.0 827.2 L412.0 827.5 L413.0 827.8 L414.0 828.2 L415.0 828.7 L416.0 829.2 L417.0 829.6 L418.0 830.1 L419.0 830.6 L420.0 831.1 L421.0 831.6 L422.0 832.0 L423.0 832.4 L424.0 832.8 L425.0 833.1 L426.0 833.3 L427.0 833.4 L428.0 833.5 L429.0 833.5 L430.0 833.5 L431.0 833.4 L432.0 833.3 L433.0 833.3 L434.0 833.2 L435.0 833.0 L436.0 832.9 L437.0 832.7 L438.0 832.6 L439.0 832.4 L440.0 832.2 L441.0 832.1 L442.0 831.9 L443.0 831.7 L444.0 831.5 L445.0 831.3 L446.0 831.0 L447.0 830.8 L448.0 830.6 L449.0 830.4 L450.0 830.2 L451.0 830.1 L452.0 829.9 L453.0 829.7 L454.0 829.5 L455.0 829.4 L456.0 829.2 L457.0 829.1 L458.0 829.0 L459.0 828.9 L460.0 828.8 L461.0 828.8 L462.0 828.7 L463.0 828.7 L464.0 828.7 L465.0 828.8 L466.0 828.9 L467.0 829.1 L468.0 829.4 L469.0 829.7 L470.0 830.0 L471.0 830.4 L472.0 830.8 L473.0 831.3 L474.0 831.7 L475.0 832.2 L476.0 832.7 L477.0 833.2 L478.0 833.7 L479.0 834.2 L480.0 834.7 L481.0 835.2 L482.0 835.7 L483.0 836.1 L484.0 836.6 L485.0 837.0 L486.0 837.3 L487.0 837.6 L488.0 837.9 L489.0 838.1 L490.0 838.3 L491.0 838.4 L492.0 838.4 L493.0 838.4 L494.0 838.4 L495.0 838.3 L496.0 838.3 L497.0 838.3 L498.0 838.2 L499.0 838.1 L500.0 838.1 L501.0 838.0 L502.0 837.9 L503.0 837.8 L504.0 837.7 L505.0 837.6 L506.0 837.5 L507.0 837.4 L508.0 837.2 L509.0 837.1 L510.0 837.0 L511.0 836.9 L512.0 836.8 L513.0 836.6 L514.0 836.5 L515.0 836.4 L516.0 836.2 L517.0 836.1 L518.0 836.0 L519.0 835.9 L520.0 835.7 L521.0 835.6 L522.0 835.4 L523.0 835.3 L524.0 835.1 L525.0 834.9 L526.0 834.7 L527.0 834.5 L528.0 834.3 L529.0 834.1 L530.0 833.8 L531.0 833.6 L532.0 833.4 L533.0 833.1 L534.0 832.9 L535.0 832.6 L536.0 832.4 L537.0 832.1 L538.0 831.8 L539.0 831.6 L540.0 831.3 L541.0 831.0 L542.0 830.8 L543.0 830.5 L544.0 830.2 L545.0 830.0 L546.0 829.7 L547.0 829.5 L548.0 829.2 L549.0 828.9 L550.0 828.7 L551.0 828.4 L552.0 828.2 L553.0 828.0 L554.0 827.7 L555.0 827.5 L556.0 827.3 L557.0 827.1 L558.0 826.9 L559.0 826.7 L560.0 826.5 L561.0 826.3 L562.0 826.1 L563.0 826.0 L564.0 825.8 L565.0 825.7 L566.0 825.5 L567.0 825.4 L568.0 825.3 L569.0 825.2 L570.0 825.2 L571.0 825.1 L572.0 825.1 L573.0 825.0 L574.0 825.0 L575.0 825.0 L576.0 825.0 L577.0 825.0 L578.0 825.1 L579.0 825.2 L580.0 825.2 L581.0 825.3 L582.0 825.4 L583.0 825.5 L584.0 825.6 L585.0 825.8 L586.0 825.9 L587.0 826.0 L588.0 826.2 L589.0 826.3 L590.0 826.5 L591.0 826.7 L592.0 826.8 L593.0 827.0 L594.0 827.2 L595.0 827.4 L596.0 827.6 L597.0 827.8 L598.0 828.0 L599.0 828.2 L600.0 828.3 L601.0 828.5 L602.0 828.7 L603.0 828.9 L604.0 829.1 L605.0 829.3 L606.0 829.4 L607.0 829.6 L608.0 829.8 L609.0 829.9 L610.0 830.1 L611.0 830.2 L612.0 830.3 L613.0 830.4 L614.0 830.6 L615.0 830.7 L616.0 830.7 L617.0 830.8 L618.0 830.9 L619.0 830.9 L620.0 831.0 L621.0 831.0 L622.0 831.0 L623.0 831.0 L624.0 831.0 L625.0 831.0 L626.0 830.9 L627.0 830.9 L628.0 830.9 L629.0 830.8 L630.0 830.8 L631.0 830.7 L632.0 830.7 L633.0 830.6 L634.0 830.5 L635.0 830.5 L636.0 830.4 L637.0 830.3 L638.0 830.2 L639.0 830.1 L640.0 830.0 L641.0 829.9 L642.0 829.8 L643.0 829.7 L644.0 829.6 L645.0 829.5 L646.0 829.4 L647.0 829.3 L648.0 829.2 L649.0 829.1 L650.0 829.0 L651.0 828.9 L652.0 828.8 L653.0 828.7 L654.0 828.6 L655.0 828.5 L656.0 828.4 L657.0 828.3 L658.0 828.2 L659.0 828.0 L660.0 828.0 L661.0 827.9 L662.0 827.8 L663.0 827.7 L664.0 827.6 L665.0 827.5 L666.0 827.4 L667.0 827.3 L668.0 827.3 L669.0 827.2 L670.0 827.1 L671.0 827.1 L672.0 827.0 L673.0 827.0 L674.0 826.9 L675.0 826.9 L676.0 826.9 L677.0 826.8 L678.0 826.8 L679.0 826.8 L680.0 826.8 L681.0 826.8 L682.0 826.8 L683.0 826.8 L684.0 826.8 L685.0 826.9 L686.0 826.9 L687.0 826.9 L688.0 827.0 L689.0 827.0 L690.0 827.1 L691.0 827.1 L692.0 827.2 L693.0 827.3 L694.0 827.3 L695.0 827.4 L696.0 827.4 L697.0 827.5 L698.0 827.6 L699.0 827.7 L700.0 827.7 L701.0 827.8 L702.0 827.9 L703.0 828.0 L704.0 828.1 L705.0 828.1 L706.0 828.2 L707.0 828.3 L708.0 828.4 L709.0 828.4 L710.0 828.5 L711.0 828.6 L712.0 828.7 L713.0 828.7 L714.0 828.8 L715.0 828.9 L716.0 828.9 L717.0 829.0 L718.0 829.1 L719.0 829.1 L720.0 829.2 L721.0 829.2 L722.0 829.3 L723.0 829.3 L724.0 829.4 L725.0 829.4 L726.0 829.5 L727.0 829.5 L728.0 829.6 L729.0 829.6 L730.0 829.7 L731.0 829.7 L732.0 829.8 L733.0 829.8 L734.0 829.9 L735.0 829.9 L736.0 830.0 L737.0 830.0 L738.0 830.1 L739.0 830.1 L740.0 830.2 L741.0 830.2 L742.0 830.3 L743.0 830.4 L744.0 830.4 L745.0 830.5 L746.0 830.5 L747.0 830.6 L748.0 830.7 L749.0 830.8 L750.0 830.8 L751.0 830.9 L752.0 831.0 L753.0 831.1 L754.0 831.2 L755.0 831.3 L756.0 831.5 L757.0 831.6 L758.0 831.8 L759.0 832.0 L760.0 832.2 L761.0 832.4 L762.0 832.6 L763.0 832.8 L764.0 833.0 L765.0 833.2 L766.0 833.4 L767.0 833.6 L768.0 833.8 L769.0 834.0 L770.0 834.2 L771.0 834.3 L772.0 834.5 L773.0 834.6 L774.0 834.7 L775.0 834.8 L776.0 834.9 L777.0 835.0 L778.0 835.0 L779.0 835.0 L780.0 835.0 L781.0 834.9 L782.0 834.8 L783.0 834.6 L784.0 834.5 L785.0 834.2 L786.0 834.0 L787.0 833.7 L788.0 833.5 L789.0 833.2 L790.0 832.9 L791.0 832.5 L792.0 832.2 L793.0 831.9 L794.0 831.5 L795.0 831.2 L796.0 830.9 L797.0 830.5 L798.0 830.2 L799.0 829.9 L800.0 829.6 L801.0 829.4 L802.0 829.1 L803.0 828.9 L804.0 828.7 L805.0 828.5 L806.0 828.4 L807.0 828.2 L808.0 828.0 L809.0 827.8 L810.0 827.6 L811.0 827.4 L812.0 827.2 L813.0 827.0 L814.0 826.8 L815.0 826.6 L816.0 826.4 L817.0 826.3 L818.0 826.1 L819.0 825.9 L820.0 825.8 L821.0 825.6 L822.0 825.5 L823.0 825.3 L824.0 825.2 L825.0 825.1 L826.0 825.0 L827.0 824.9 L828.0 824.9 L829.0 824.8 L830.0 824.7 L831.0 824.7 L832.0 824.7 L833.0 824.7 L834.0 824.8 L835.0 824.8 L836.0 825.0 L837.0 825.1 L838.0 825.3 L839.0 825.5 L840.0 825.8 L841.0 826.0 L842.0 826.3 L843.0 826.6 L844.0 826.9 L845.0 827.2 L846.0 827.5 L847.0 827.9 L848.0 828.2 L849.0 828.5 L850.0 828.8 L851.0 829.1 L852.0 829.4 L853.0 829.7 L854.0 829.9 L855.0 830.2 L856.0 830.4 L857.0 830.5 L858.0 830.7 L859.0 830.8 L860.0 830.9 L861.0 830.9 L862.0 830.9 L863.0 830.8 L864.0 830.8 L865.0 830.7 L866.0 830.5 L867.0 830.4 L868.0 830.2 L869.0 830.0 L870.0 829.8 L871.0 829.6 L872.0 829.4 L873.0 829.2 L874.0 829.0 L875.0 828.7 L876.0 828.5 L877.0 828.3 L878.0 828.1 L879.0 827.9 L880.0 827.7 L881.0 827.6 L882.0 827.5 L883.0 827.3 L884.0 827.3 L885.0 827.2 L886.0 827.2 L887.0 827.2 L888.0 827.2 L889.0 827.3 L890.0 827.3 L891.0 827.4 L892.0 827.5 L893.0 827.6 L894.0 827.7 L895.0 827.8 L896.0 828.0 L897.0 828.1 L898.0 828.2 L899.0 828.4 L900.0 828.5 L901.0 828.7 L902.0 828.8 L903.0 829.0 L904.0 829.1 L905.0 829.3 L906.0 829.4 L907.0 829.6 L908.0 829.7 L909.0 829.8 L910.0 829.9 L911.0 830.0 L912.0 830.1 L913.0 830.2 L914.0 830.2 L915.0 830.3 L916.0 830.3 L917.0 830.3 L918.0 830.3 L919.0 830.2 L920.0 830.0 L921.0 829.9 L922.0 829.7 L923.0 829.4 L924.0 829.1 L925.0 828.8 L926.0 828.5 L927.0 828.1 L928.0 827.7 L929.0 827.3 L930.0 826.9 L931.0 826.4 L932.0 826.0 L933.0 825.5 L934.0 825.1 L935.0 824.6 L936.0 824.2 L937.0 823.7 L938.0 823.3 L939.0 822.8 L940.0 822.4 L941.0 822.0 L942.0 821.6 L943.0 821.3 L944.0 821.0 L945.0 820.7 L946.0 820.4 L947.0 820.1 L948.0 820.0 L949.0 819.8 L950.0 819.7 L951.0 819.6 L952.0 819.6 L953.0 819.6 L954.0 819.8 L955.0 819.9 L956.0 820.1 L957.0 820.4 L958.0 820.7 L959.0 821.1 L960.0 821.4 L961.0 821.9 L962.0 822.3 L963.0 822.8 L964.0 823.2 L965.0 823.7 L966.0 824.2 L967.0 824.7 L968.0 825.2 L969.0 825.6 L970.0 826.1 L971.0 826.5 L972.0 827.0 L973.0 827.3 L974.0 827.7 L975.0 828.0 L976.0 828.3 L977.0 828.5 L978.0 828.7 L979.0 828.8 L980.0 829.0 L981.0 829.1 L982.0 829.2 L983.0 829.3 L984.0 829.4 L985.0 829.5 L986.0 829.6 L987.0 829.7 L988.0 829.8 L989.0 829.9 L990.0 830.0 L991.0 830.1 L992.0 830.2 L993.0 830.3 L994.0 830.4 L995.0 830.4 L996.0 830.5 L997.0 830.6 L998.0 830.6 L999.0 830.7 L1000.0 830.7 L1001.0 830.8 L1002.0 830.8 L1003.0 830.9 L1004.0 830.9 L1005.0 830.9 L1006.0 831.0 L1007.0 831.0 L1008.0 831.0 L1009.0 831.0 L1010.0 831.0 L1011.0 831.0 L1012.0 830.9 L1013.0 830.9 L1014.0 830.8 L1015.0 830.7 L1016.0 830.6 L1017.0 830.5 L1018.0 830.3 L1019.0 830.2 L1020.0 830.0 L1021.0 829.8 L1022.0 829.6 L1023.0 829.4 L1024.0 829.2 L1025.0 829.0 L1026.0 828.8 L1027.0 828.6 L1028.0 828.3 L1029.0 828.1 L1030.0 827.9 L1031.0 827.6 L1032.0 827.4 L1033.0 827.1 L1034.0 826.9 L1035.0 826.7 L1036.0 826.4 L1037.0 826.2 L1038.0 826.0 L1039.0 825.7 L1040.0 825.5 L1041.0 825.3 L1042.0 825.1 L1043.0 824.9 L1044.0 824.7 L1045.0 824.6 L1046.0 824.4 L1047.0 824.3 L1048.0 824.1 L1049.0 824.0 L1050.0 823.9 L1051.0 823.8 L1052.0 823.8 L1053.0 823.7 L1054.0 823.7 L1055.0 823.7 L1056.0 823.7 L1057.0 823.8 L1058.0 823.8 L1059.0 824.0 L1060.0 824.1 L1061.0 824.2 L1062.0 824.4 L1063.0 824.6 L1064.0 824.8 L1065.0 825.0 L1066.0 825.3 L1067.0 825.5 L1068.0 825.8 L1069.0 826.1 L1070.0 826.4 L1071.0 826.7 L1072.0 827.0 L1073.0 827.3 L1074.0 827.6 L1075.0 827.9 L1076.0 828.2 L1077.0 828.5 L1078.0 828.8 L1079.0 829.1 L1080.0 829.4 L1081.0 829.7 L1082.0 830.0 L1083.0 830.3 L1084.0 830.7 L1085.0 831.1 L1086.0 831.5 L1087.0 832.0 L1088.0 832.4 L1089.0 832.9 L1090.0 833.4 L1091.0 833.9 L1092.0 834.4 L1093.0 834.9 L1094.0 835.3 L1095.0 835.8 L1096.0 836.2 L1097.0 836.6 L1098.0 836.9 L1099.0 837.3 L1100.0 837.5 L1101.0 837.8 L1102.0 837.9 L1103.0 838.1 L1104.0 838.1 L1105.0 838.1 L1106.0 838.0 L1107.0 837.9 L1108.0 837.8 L1109.0 837.6 L1110.0 837.4 L1111.0 837.2 L1112.0 836.9 L1113.0 836.6 L1114.0 836.3 L1115.0 836.0 L1116.0 835.6 L1117.0 835.3 L1118.0 834.9 L1119.0 834.6 L1120.0 834.2 L1121.0 833.9 L1122.0 833.5 L1123.0 833.2 L1124.0 832.8 L1125.0 832.5 L1126.0 832.2 L1127.0 832.0 L1128.0 831.7 L1129.0 831.5 L1130.0 831.3 L1131.0 831.2 L1132.0 831.1 L1133.0 831.0 L1134.0 831.0 L1135.0 830.9 L1136.0 830.9 L1137.0 830.8 L1138.0 830.8 L1139.0 830.7 L1140.0 830.7 L1141.0 830.7 L1142.0 830.6 L1143.0 830.6 L1144.0 830.6 L1145.0 830.5 L1146.0 830.5 L1147.0 830.5 L1148.0 830.5 L1149.0 830.4 L1150.0 830.4 L1151.0 830.4 L1152.0 830.4 L1153.0 830.4 L1154.0 830.3 L1155.0 830.3 L1156.0 830.3 L1157.0 830.3 L1158.0 830.3 L1159.0 830.3 L1160.0 830.3"/>
<path class="c" stroke="#00bfbf" d="M214.0 181.0 L215.0 183.9 L216.0 187.3 L217.0 191.3 L218.0 195.7 L219.0 200.7 L220.0 206.5 L221.0 213.5 L222.0 222.5 L223.0 233.1 L224.0 244.6 L225.0 256.2 L226.0 269.0 L227.0 282.2 L228.0 294.8 L229.0 306.4 L230.0 317.4 L231.0 328.3 L232.0 339.6 L233.0 351.6 L234.0 365.0 L235.0 379.9 L236.0 395.6 L237.0 411.3 L238.0 426.5 L239.0 441.5 L240.0 456.4 L241.0 471.3 L242.0 486.3 L243.0 501.5 L244.0 516.7 L245.0 531.8 L246.0 546.5 L247.0 561.0 L248.0 575.4 L249.0 589.4 L250.0 602.9 L251.0 615.7 L252.0 627.9 L253.0 639.7 L254.0 651.1 L255.0 662.4 L256.0 672.4 L257.0 681.4 L258.0 689.8 L259.0 697.8 L260.0 705.6 L261.0 713.4 L262.0 721.2 L263.0 729.2 L264.0 737.0 L265.0 744.4 L266.0 751.3 L267.0 757.3 L268.0 762.4 L269.0 766.8 L270.0 770.7 L271.0 774.3 L272.0 777.8 L273.0 781.1 L274.0 784.1 L275.0 786.9 L276.0 789.2 L277.0 791.4 L278.0 793.4 L279.0 795.3 L280.0 797.1 L281.0 798.8 L282.0 800.4 L283.0 801.9 L284.0 803.4 L285.0 804.8 L286.0 806.2 L287.0 807.5 L288.0 808.7 L289.0 810.0 L290.0 811.1 L291.0 812.3 L292.0 813.3 L293.0 814.4 L294.0 815.4 L295.0 816.4 L296.0 817.3 L297.0 818.3 L298.0 819.2 L299.0 820.1 L300.0 821.0 L301.0 821.8 L302.0 822.7 L303.0 823.5 L304.0 824.2 L305.0 824.9 L306.0 825.5 L307.0 826.1 L308.0 826.6 L309.0 827.1 L310.0 827.6 L311.0 828.1 L312.0 828.5 L313.0 828.9 L314.0 829.3 L315.0 829.6 L316.0 829.8 L317.0 830.0 L318.0 830.2 L319.0 830.3 L320.0 830.4 L321.0 830.6 L322.0 830.7 L323.0 830.8 L324.0 830.9 L325.0 830.9 L326.0 831.0 L327.0 831.0 L328.0 831.0 L329.0 831.0 L330.0 830.9 L331.0 830.8 L332.0 830.7 L333.0 830.5 L334.0 830.4 L335.0 830.2 L336.0 830.1 L337.0 829.9 L338.0 829.7 L339.0 829.6 L340.0 829.4 L341.0 829.2 L342.0 829.1 L343.0 829.0 L344.0 828.8 L345.0 828.7 L346.0 828.5 L347.0 828.4 L348.0 828.2 L349.0 828.1 L350.0 827.9 L351.0 827.7 L352.0 827.6 L353.0 827.5 L354.0 827.3 L355.0 827.2 L356.0 827.1 L357.0 827.0 L358.0 827.0 L359.0 826.9 L360.0 826.9 L361.0 826.9 L362.0 827.0 L363.0 827.1 L364.0 827.2 L365.0 827.4 L366.0 827.6 L367.0 827.8 L368.0 828.0 L369.0 828.3 L370.0 828.6 L371.0 828.9 L372.0 829.2 L373.0 829.5 L374.0 829.8 L375.0 830.0 L376.0 830.3 L377.0 830.6 L378.0 830.8 L379.0 831.1 L380.0 831.3 L381.0 831.6 L382.0 831.8 L383.0 832.1 L384.0 832.4 L385.0 832.7 L386.0 833.0 L387.0 833.3 L388.0 833.6 L389.0 833.9 L390.0 834.2 L391.0 834.4 L392.0 834.6 L393.0 834.8 L394.0 835.0 L395.0 835.1 L396.0 835.2 L397.0 835.2 L398.0 835.2 L399.0 835.1 L400.0 835.1 L401.0 835.0 L402.0 834.8 L403.0 834.7 L404.0 834.5 L405.0 834.3 L406.0 834.1 L407.0 833.8 L408.0 833.6 L409.0 833.3 L410.0 833.0 L411.0 832.7 L412.0 832.4 L413.0 832.1 L414.0 831.8 L415.0 831.5 L416.0 831.2 L417.0 830.9 L418.0 830.6 L419.0 830.3 L420.0 830.0 L421.0 829.7 L422.0 829.3 L423.0 829.0 L424.0 828.5 L425.0 828.1 L426.0 827.7 L427.0 827.2 L428.0 826.8 L429.0 826.4 L430.0 826.0 L431.0 825.7 L432.0 825.4 L433.0 825.1 L434.0 825.0 L435.0 824.9 L436.0 824.9 L437.0 825.0 L438.0 825.1 L439.0 825.4 L440.0 825.6 L441.0 825.9 L442.0 826.3 L443.0 826.6 L444.0 827.0 L445.0 827.4 L446.0 827.8 L447.0 828.2 L448.0 828.5 L449.0 828.9 L450.0 829.2 L451.0 829.5 L452.0 829.7 L453.0 829.9 L454.0 830.0 L455.0 830.1 L456.0 830.1 L457.0 830.2 L458.0 830.3 L459.0 830.3 L460.0 830.3 L461.0 830.4 L462.0 830.4 L463.0 830.5 L464.0 830.5 L465.0 830.5 L466.0 830.6 L467.0 830.6 L468.0 830.6 L469.0 830.6 L470.0 830.7 L471.0 830.7 L472.0 830.7 L473.0 830.7 L474.0 830.8 L475.0 830.8 L476.0 830.8 L477.0 830.9 L478.0 830.9 L479.0 830.9 L480.0 831.0 L481.0 831.0 L482.0 831.1 L483.0 831.1 L484.0 831.2 L485.0 831.3 L486.0 831.4 L487.0 831.5 L488.0 831.7 L489.0 831.9 L490.0 832.1 L491.0 832.3 L492.0 832.5 L493.0 832.7 L494.0 833.0 L495.0 833.3 L496.0 833.5 L497.0 833.8 L498.0 834.1 L499.0 834.4 L500.0 834.7 L501.0 835.0 L502.0 835.3 L503.0 835.6 L504.0 835.8 L505.0 836.1 L506.0 836.4 L507.0 836.6 L508.0 836.9 L509.0 837.1 L510.0 837.4 L511.0 837.6 L512.0 837.7 L513.0 837.9 L514.0 838.1 L515.0 838.2 L516.0 838.3 L517.0 838.3 L518.0 838.4 L519.0 838.4 L520.0 838.4 L521.0 838.3 L522.0 838.2 L523.0 838.0 L524.0 837.8 L525.0 837.6 L526.0 837.3 L527.0 837.0 L528.0 836.7 L529.0 836.3 L530.0 835.9 L531.0 835.5 L532.0 835.1 L533.0 834.7 L534.0 834.3 L535.0 833.9 L536.0 833.5 L537.0 833.0 L538.0 832.6 L539.0 832.2 L540.0 831.8 L541.0 831.4 L542.0 831.0 L543.0 830.7 L544.0 830.4 L545.0 830.1 L546.0 829.8 L547.0 829.6 L548.0 829.4 L549.0 829.2 L550.0 829.1 L551.0 829.0 L552.0 828.9 L553.0 828.8 L554.0 828.7 L555.0 828.6 L556.0 828.5 L557.0 828.4 L558.0 828.3 L559.0 828.2 L560.0 828.2 L561.0 828.1 L562.0 828.0 L563.0 828.0 L564.0 827.9 L565.0 827.8 L566.0 827.8 L567.0 827.7 L568.0 827.7 L569.0 827.6 L570.0 827.6 L571.0 827.6 L572.0 827.5 L573.0 827.5 L574.0 827.5 L575.0 827.5 L576.0 827.5 L577.0 827.5 L578.0 827.4 L579.0 827.4 L580.0 827.4 L581.0 827.4 L582.0 827.4 L583.0 827.4 L584.0 827.4 L585.0 827.3 L586.0 827.3 L587.0 827.3 L588.0 827.3 L589.0 827.3 L590.0 827.3 L591.0 827.3 L592.0 827.3 L593.0 827.2 L594.0 827.2 L595.0 827.2 L596.0 827.2 L597.0 827.2 L598.0 827.2 L599.0 827.2 L600.0 827.2 L601.0 827.2 L602.0 827.2 L603.0 827.2 L604.0 827.2 L605.0 827.2 L606.0 827.1 L607.0 827.1 L608.0 827.1 L609.0 827.1 L610.0 827.1 L611.0 827.1 L612.0 827.1 L613.0 827.1 L614.0 827.1 L615.0 827.1 L616.0 827.1 L617.0 827.1 L618.0 827.1 L619.0 827.1 L620.0 827.1 L621.0 827.1 L622.0 827.1 L623.0 827.1 L624.0 827.2 L625.0 827.3 L626.0 827.4 L627.0 827.5 L628.0 827.7 L629.0 827.8 L630.0 828.0 L631.0 828.2 L632.0 828.5 L633.0 828.7 L634.0 828.9 L635.0 829.1 L636.0 829.3 L637.0 829.6 L638.0 829.8 L639.0 830.0 L640.0 830.1 L641.0 830.3 L642.0 830.5 L643.0 830.6 L644.0 830.7 L645.0 830.8 L646.0 830.8 L647.0 830.8 L648.0 830.7 L649.0 830.6 L650.0 830.5 L651.0 830.3 L652.0 830.1 L653.0 829.8 L654.0 829.5 L655.0 829.2 L656.0 828.8 L657.0 828.4 L658.0 828.0 L659.0 827.6 L660.0 827.2 L661.0 826.7 L662.0 826.3 L663.0 825.8 L664.0 825.4 L665.0 824.9 L666.0 824.5 L667.0 824.0 L668.0 823.6 L669.0 823.2 L670.0 822.8 L671.0 822.4 L672.0 822.1 L673.0 821.8 L674.0 821.5 L675.0 821.2 L676.0 821.0 L677.0 820.8 L678.0 820.7 L679.0 820.6 L680.0 820.6 L681.0 820.6 L682.0 820.7 L683.0 820.8 L684.0 821.0 L685.0 821.3 L686.0 821.5 L687.0 821.9 L688.0 822.2 L689.0 822.6 L690.0 823.0 L691.0 823.4 L692.0 823.9 L693.0 824.4 L694.0 824.9 L695.0 825.4 L696.0 826.0 L697.0 826.5 L698.0 827.0 L699.0 827.6 L700.0 828.1 L701.0 828.6 L702.0 829.2 L703.0 829.7 L704.0 830.2 L705.0 830.7 L706.0 831.2 L707.0 831.6 L708.0 832.0 L709.0 832.4 L710.0 832.7 L711.0 833.1 L712.0 833.3 L713.0 833.6 L714.0 833.8 L715.0 833.9 L716.0 834.0 L717.0 834.0 L718.0 834.0 L719.0 833.9 L720.0 833.8 L721.0 833.7 L722.0 833.5 L723.0 833.4 L724.0 833.1 L725.0 832.9 L726.0 832.7 L727.0 832.4 L728.0 832.1 L729.0 831.8 L730.0 831.4 L731.0 831.1 L732.0 830.8 L733.0 830.4 L734.0 830.1 L735.0 829.7 L736.0 829.4 L737.0 829.0 L738.0 828.7 L739.0 828.4 L740.0 828.0 L741.0 827.7 L742.0 827.4 L743.0 827.1 L744.0 826.9 L745.0 826.7 L746.0 826.4 L747.0 826.3 L748.0 826.1 L749.0 826.0 L750.0 825.9 L751.0 825.8 L752.0 825.8 L753.0 825.8 L754.0 825.9 L755.0 825.9 L756.0 826.0 L757.0 826.1 L758.0 826.2 L759.0 826.4 L760.0 826.5 L761.0 826.7 L762.0 826.9 L763.0 827.1 L764.0 827.3 L765.0 827.5 L766.0 827.8 L767.0 828.0 L768.0 828.3 L769.0 828.5 L770.0 828.8 L771.0 829.0 L772.0 829.3 L773.0 829.5 L774.0 829.8 L775.0 830.1 L776.0 830.3 L777.0 830.6 L778.0 830.8 L779.0 831.0 L780.0 831.3 L781.0 831.6 L782.0 831.9 L783.0 832.2 L784.0 832.5 L785.0 832.9 L786.0 833.3 L787.0 833.6 L788.0 834.0 L789.0 834.4 L790.0 834.8 L791.0 835.2 L792.0 835.6 L793.0 836.0 L794.0 836.3 L795.0 836.7 L796.0 837.0 L797.0 837.4 L798.0 837.7 L799.0 838.0 L800.0 838.2 L801.0 838.5 L802.0 838.7 L803.0 838.8 L804.0 839.0 L805.0 839.0 L806.0 839.1 L807.0 839.1 L808.0 839.1 L809.0 839.0 L810.0 838.9 L811.0 838.7 L812.0 838.6 L813.0 838.4 L814.0 838.1 L815.0 837.9 L816.0 837.6 L817.0 837.3 L818.0 837.0 L819.0 836.7 L820.0 836.4 L821.0 836.0 L822.0 835.7 L823.0 835.4 L824.0 835.0 L825.0 834.7 L826.0 834.4 L827.0 834.1 L828.0 833.7 L829.0 833.5 L830.0 833.2 L831.0 832.9 L832.0 832.7 L833.0 832.5 L834.0 832.3 L835.0 832.2 L836.0 832.0 L837.0 832.0 L838.0 831.9 L839.0 831.9 L840.0 831.9 L841.0 832.0 L842.0 832.1 L843.0 832.2 L844.0 832.3 L845.0 832.5 L846.0 832.7 L847.0 832.9 L848.0 833.1 L849.0 833.3 L850.0 833.5 L851.0 833.7 L852.0 834.0 L853.0 834.2 L854.0 834.4 L855.0 834.6 L856.0 834.9 L857.0 835.1 L858.0 835.2 L859.0 835.4 L860.0 835.6 L861.0 835.7 L862.0 835.8 L863.0 835.9 L864.0 836.0 L865.0 836.0 L866.0 836.0 L867.0 836.0 L868.0 835.9 L869.0 835.8 L870.0 835.7 L871.0 835.6 L872.0 835.5 L873.0 835.4 L874.0 835.2 L875.0 835.0 L876.0 834.9 L877.0 834.7 L878.0 834.5 L879.0 834.3 L880.0 834.1 L881.0 833.8 L882.0 833.6 L883.0 833.4 L884.0 833.2 L885.0 833.0 L886.0 832.8 L887.0 832.5 L888.0 832.3 L889.0 832.2 L890.0 832.0 L891.0 831.8 L892.0 831.6 L893.0 831.5 L894.0 831.3 L895.0 831.2 L896.0 831.1 L897.0 831.0 L898.0 831.0 L899.0 830.9 L900.0 830.9 L901.0 830.9 L902.0 831.0 L903.0 831.2 L904.0 831.4 L905.0 831.6 L906.0 831.9 L907.0 832.2 L908.0 832.6 L909.0 832.9 L910.0 833.3 L911.0 833.7 L912.0 834.0 L913.0 834.3 L914.0 834.6 L915.0 834.9 L916.0 835.1 L917.0 835.3 L918.0 835.4 L919.0 835.4 L920.0 835.4 L921.0 835.4 L922.0 835.4 L923.0 835.3 L924.0 835.3 L925.0 835.2 L926.0 835.2 L927.0 835.1 L928.0 835.1 L929.0 835.0 L930.0 834.9 L931.0 834.9 L932.0 834.8 L933.0 834.7 L934.0 834.6 L935.0 834.5 L936.0 834.4 L937.0 834.3 L938.0 834.2 L939.0 834.1 L940.0 834.1 L941.0 834.0 L942.0 833.9 L943.0 833.8 L944.0 833.7 L945.0 833.6 L946.0 833.5 L947.0 833.5 L948.0 833.4 L949.0 833.3 L950.0 833.3 L951.0 833.2 L952.0 833.2 L953.0 833.1 L954.0 833.1 L955.0 833.0 L956.0 833.0 L957.0 833.0 L958.0 833.0 L959.0 833.0 L960.0 833.0 L961.0 833.0 L962.0 833.0 L963.0 833.0 L964.0 833.0 L965.0 833.0 L966.0 833.0 L967.0 833.0 L968.0 833.0 L969.0 833.0 L970.0 833.0 L971.0 833.0 L972.0 833.0 L973.0 833.0 L974.0 833.0 L975.0 833.0 L976.0 833.0 L977.0 833.0 L978.0 833.0 L979.0 833.0 L980.0 833.0 L981.0 833.0 L982.0 833.0 L983.0 833.0 L984.0 833.0 L985.0 833.0 L986.0 833.0 L987.0 833.0 L988.0 833.0 L989.0 833.0 L990.0 832.9 L991.0 832.8 L992.0 832.6 L993.0 832.3 L994.0 832.0 L995.0 831.6 L996.0 831.2 L997.0 830.7 L998.0 830.3 L999.0 829.8 L1000.0 829.4 L1001.0 828.9 L1002.0 828.6 L1003.0 828.2 L1004.0 827.9 L1005.0 827.7 L1006.0 827.5 L1007.0 827.4 L1008.0 827.4 L1009.0 827.4 L1010.0 827.5 L1011.0 827.6 L1012.0 827.8 L1013.0 827.9 L1014.0 828.1 L1015.0 828.4 L1016.0 828.6 L1017.0 828.9 L1018.0 829.1 L1019.0 829.4 L1020.0 829.8 L1021.0 830.1 L1022.0 830.4 L1023.0 830.8 L1024.0 831.1 L1025.0 831.5 L1026.0 831.9 L1027.0 832.2 L1028.0 832.6 L1029.0 833.0 L1030.0 833.4 L1031.0 833.7 L1032.0 834.1 L1033.0 834.4 L1034.0 834.7 L1035.0 835.1 L1036.0 835.4 L1037.0 835.6 L1038.0 835.9 L1039.0 836.1 L1040.0 836.4 L1041.0 836.6 L1042.0 836.7 L1043.0 836.9 L1044.0 837.0 L1045.0 837.1 L1046.0 837.1 L1047.0 837.1 L1048.0 836.9 L1049.0 836.6 L1050.0 836.2 L1051.0 835.7 L1052.0 835.1 L1053.0 834.5 L1054.0 833.9 L1055.0 833.2 L1056.0 832.6 L1057.0 832.1 L1058.0 831.6 L1059.0 831.2 L1060.0 831.0 L1061.0 830.9 L1062.0 830.9 L1063.0 830.9 L1064.0 831.0 L1065.0 831.1 L1066.0 831.2 L1067.0 831.3 L1068.0 831.4 L1069.0 831.6 L1070.0 831.7 L1071.0 831.9 L1072.0 832.0 L1073.0 832.2 L1074.0 832.4 L1075.0 832.6 L1076.0 832.7 L1077.0 832.9 L1078.0 833.1 L1079.0 833.2 L1080.0 833.4 L1081.0 833.5 L1082.0 833.6 L1083.0 833.7 L1084.0 833.8 L1085.0 833.9 L1086.0 834.0 L1087.0 834.0 L1088.0 834.0 L1089.0 833.9 L1090.0 833.8 L1091.0 833.6 L1092.0 833.3 L1093.0 833.0 L1094.0 832.7 L1095.0 832.3 L1096.0 831.8 L1097.0 831.3 L1098.0 830.8 L1099.0 830.2 L1100.0 829.7 L1101.0 829.1 L1102.0 828.5 L1103.0 827.9 L1104.0 827.3 L1105.0 826.7 L1106.0 826.1 L1107.0 825.5 L1108.0 825.0 L1109.0 824.4 L1110.0 823.9 L1111.0 823.5 L1112.0 823.1 L1113.0 822.7 L1114.0 822.3 L1115.0 822.1 L1116.0 821.8 L1117.0 821.7 L1118.0 821.6 L1119.0 821.6 L1120.0 821.6 L1121.0 821.6 L1122.0 821.6 L1123.0 821.6 L1124.0 821.6 L1125.0 821.6 L1126.0 821.6 L1127.0 821.6 L1128.0 821.6 L1129.0 821.6 L1130.0 821.7 L1131.0 821.7 L1132.0 821.7 L1133.0 821.7 L1134.0 821.7 L1135.0 821.8 L1136.0 821.8 L1137.0 821.8 L1138.0 821.9 L1139.0 821.9 L1140.0 821.9 L1141.0 822.0 L1142.0 822.1 L1143.0 822.1 L1144.0 822.2 L1145.0 822.2 L1146.0 822.3 L1147.0 822.4 L1148.0 822.5 L1149.0 822.6 L1150.0 822.7 L1151.0 822.8 L1152.0 822.9 L1153.0 823.0 L1154.0 823.2 L1155.0 823.3 L1156.0 823.4 L1157.0 823.6 L1158.0 823.8 L1159.0 823.9 L1160.0 824.1"/>
</g>
<path class="t" d="M214.4 1037 V1017 M214.4 93 V113 M340.4 1037 V1017 M340.4 93 V113 M466.4 1037 V1017 M466.4 93 V113 M592.4 1037 V1017 M592.4 93 V113 M718.4 1037 V1017 M718.4 93 V113 M844.4 1037 V1017 M844.4 93 V113 M970.4 1037 V1017 M970.4 93 V113 M1096.4 1037 V1017 M1096.4 93 V113 M214 1037.0 H234 M1156 1037.0 H1136 M214 879.7 H234 M1156 879.7 H1136 M214 722.3 H234 M1156 722.3 H1136 M214 565.0 H234 M1156 565.0 H1136 M214 407.7 H234 M1156 407.7 H1136 M214 250.3 H234 M1156 250.3 H1136 M214 93.0 H234 M1156 93.0 H1136"/>
<rect class="sp" x="214" y="93" width="942" height="944"/>
<text class="tk" x="214.4" y="1101.0" text-anchor="middle">0</text>
<text class="tk" x="340.4" y="1101.0" text-anchor="middle">1</text>
<text class="tk" x="466.4" y="1101.0" text-anchor="middle">2</text>
<text class="tk" x="592.4" y="1101.0" text-anchor="middle">3</text>
<text class="tk" x="718.4" y="1101.0" text-anchor="middle">4</text>
<text class="tk" x="844.4" y="1101.0" text-anchor="middle">5</text>
<text class="tk" x="970.4" y="1101.0" text-anchor="middle">6</text>
<text class="tk" x="1096.4" y="1101.0" text-anchor="middle">7</text>
<text class="tk" x="195.0" y="1053.0" text-anchor="end">0.2</text>
<text class="tk" x="195.0" y="895.7" text-anchor="end">0.4</text>
<text class="tk" x="195.0" y="738.3" text-anchor="end">0.6</text>
<text class="tk" x="195.0" y="581.0" text-anchor="end">0.8</text>
<text class="tk" x="195.0" y="423.7" text-anchor="end">1.0</text>
<text class="tk" x="195.0" y="266.3" text-anchor="end">1.2</text>
<text class="tk" x="195.0" y="109.0" text-anchor="end">1.4</text>
<text class="ttl" x="685.0" y="68.7" text-anchor="middle">A</text>
<text class="tk lab" x="685.0" y="1182.0" text-anchor="middle">time</text>
<text class="tk lab" transform="translate(65.0 565.3) rotate(-90)" text-anchor="middle">mean distance</text>
</g>
<g>
<g clip-path="url(#clipB)">
<path class="c" stroke="#0000ff" d="M1353.3 93.0 L1354.3 93.6 L1355.3 94.3 L1356.3 95.1 L1357.3 95.9 L1358.3 96.7 L1359.3 97.7 L1360.3 98.7 L1361.3 99.8 L1362.3 100.9 L1363.3 102.2 L1364.3 103.5 L1365.3 104.9 L1366.3 106.3 L1367.3 107.9 L1368.3 109.5 L1369.3 111.3 L1370.3 113.1 L1371.3 115.0 L1372.3 117.0 L1373.3 119.1 L1374.3 121.3 L1375.3 123.6 L1376.3 126.1 L1377.3 128.6 L1378.3 131.2 L1379.3 133.9 L1380.3 136.8 L1381.3 139.7 L1382.3 142.8 L1383.3 146.0 L1384.3 149.3 L1385.3 152.7 L1386.3 156.2 L1387.3 159.7 L1388.3 163.4 L1389.3 167.2 L1390.3 171.0 L1391.3 174.9 L1392.3 178.9 L1393.3 182.9 L1394.3 187.0 L1395.3 191.1 L1396.3 195.3 L1397.3 199.5 L1398.3 203.8 L1399.3 208.1 L1400.3 212.4 L1401.3 216.8 L1402.3 221.2 L1403.3 225.6 L1404.3 230.0 L1405.3 234.4 L1406.3 238.8 L1407.3 243.3 L1408.3 247.7 L1409.3 252.1 L1410.3 256.4 L1411.3 260.8 L1412.3 265.1 L1413.3 269.5 L1414.3 273.8 L1415.3 278.1 L1416.3 282.4 L1417.3 286.7 L1418.3 291.0 L1419.3 295.3 L1420.3 299.5 L1421.3 303.8 L1422.3 308.0 L1423.3 312.3 L1424.3 316.5 L1425.3 320.7 L1426.3 324.9 L1427.3 329.2 L1428.3 333.4 L1429.3 337.6 L1430.3 341.8 L1431.3 346.0 L1432.3 350.2 L1433.3 354.4 L1434.3 358.6 L1435.3 362.8 L1436.3 367.0 L1437.3 371.2 L1438.3 375.4 L1439.3 379.6 L1440.3 383.8 L1441.3 388.1 L1442.3 392.3 L1443.3 396.5 L1444.3 400.7 L1445.3 405.0 L1446.3 409.2 L1447.3 413.5 L1448.3 417.8 L1449.3 422.0 L1450.3 426.3 L1451.3 430.6 L1452.3 434.9 L1453.3 439.2 L1454.3 443.5 L1455.3 447.8 L1456.3 452.1 L1457.3 456.4 L1458.3 460.7 L1459.3 464.9 L1460.3 469.2 L1461.3 473.5 L1462.3 477.7 L1463.3 481.9 L1464.3 486.2 L1465.3 490.4 L1466.3 494.5 L1467.3 498.7 L1468.3 502.9 L1469.3 507.0 L1470.3 511.1 L1471.3 515.2 L1472.3 519.3 L1473.3 523.3 L1474.3 527.4 L1475.3 531.5 L1476.3 535.6 L1477.3 539.7 L1478.3 543.8 L1479.3 548.0 L1480.3 552.2 L1481.3 556.4 L1482.3 560.6 L1483.3 564.8 L1484.3 569.0 L1485.3 573.2 L1486.3 577.3 L1487.3 581.4 L1488.3 585.5 L1489.3 589.5 L1490.3 593.4 L1491.3 597.3 L1492.3 601.1 L1493.3 604.7 L1494.3 608.3 L1495.3 611.9 L1496.3 615.3 L1497.3 618.7 L1498.3 621.9 L1499.3 625.1 L1500.3 628.3 L1501.3 631.3 L1502.3 634.3 L1503.3 637.3 L1504.3 640.2 L1505.3 643.0 L1506.3 645.8 L1507.3 648.5 L1508.3 651.2 L1509.3 653.8 L1510.3 656.4 L1511.3 658.9 L1512.3 661.4 L1513.3 663.9 L1514.3 666.3 L1515.3 668.8 L1516.3 671.1 L1517.3 673.5 L1518.3 675.9 L1519.3 678.2 L1520.3 680.5 L1521.3 682.8 L1522.3 685.1 L1523.3 687.4 L1524.3 689.7 L1525.3 691.9 L1526.3 694.2 L1527.3 696.4 L1528.3 698.7 L1529.3 700.9 L1530.3 703.1 L1531.3 705.3 L1532.3 707.5 L1533.3 709.7 L1534.3 711.9 L1535.3 714.0 L1536.3 716.2 L1537.3 718.3 L1538.3 720.5 L1539.3 722.6 L1540.3 724.7 L1541.3 726.8 L1542.3 728.9 L1543.3 731.0 L1544.3 733.1 L1545.3 735.1 L1546.3 737.2 L1547.3 739.2 L1548.3 741.3 L1549.3 743.3 L1550.3 745.3 L1551.3 747.3 L1552.3 749.3 L1553.3 751.3 L1554.3 753.3 L1555.3 755.2 L1556.3 757.2 L1557.3 759.1 L1558.3 761.0 L1559.3 762.9 L1560.3 764.8 L1561.3 766.7 L1562.3 768.6 L1563.3 770.4 L1564.3 772.3 L1565.3 774.1 L1566.3 775.9 L1567.3 777.7 L1568.3 779.5 L1569.3 781.3 L1570.3 783.0 L1571.3 784.7 L1572.3 786.5 L1573.3 788.2 L1574.3 789.8 L1575.3 791.5 L1576.3 793.2 L1577.3 794.8 L1578.3 796.4 L1579.3 798.0 L1580.3 799.6 L1581.3 801.2 L1582.3 802.7 L1583.3 804.2 L1584.3 805.7 L1585.3 807.2 L1586.3 808.7 L1587.3 810.1 L1588.3 811.6 L1589.3 813.0 L1590.3 814.4 L1591.3 815.8 L1592.3 817.1 L1593.3 818.5 L1594.3 819.8 L1595.3 821.1 L1596.3 822.4 L1597.3 823.6 L1598.3 824.9 L1599.3 826.1 L1600.3 827.4 L1601.3 828.6 L1602.3 829.7 L1603.3 830.9 L1604.3 832.1 L1605.3 833.2 L1606.3 834.4 L1607.3 835.5 L1608.3 836.6 L1609.3 837.6 L1610.3 838.7 L1611.3 839.8 L1612.3 840.8 L1613.3 841.8 L1614.3 842.9 L1615.3 843.9 L1616.3 844.9 L1617.3 845.8 L1618.3 846.8 L1619.3 847.8 L1620.3 848.7 L1621.3 849.6 L1622.3 850.5 L1623.3 851.4 L1624.3 852.3 L1625.3 853.2 L1626.3 854.1 L1627.3 855.0 L1628.3 855.8 L1629.3 856.6 L1630.3 857.5 L1631.3 858.3 L1632.3 859.1 L1633.3 859.9 L1634.3 860.7 L1635.3 861.5 L1636.3 862.3 L1637.3 863.0 L1638.3 863.8 L1639.3 864.5 L1640.3 865.3 L1641.3 866.0 L1642.3 866.7 L1643.3 867.5 L1644.3 868.2 L1645.3 868.9 L1646.3 869.6 L1647.3 870.3 L1648.3 870.9 L1649.3 871.6 L1650.3 872.3 L1651.3 872.9 L1652.3 873.6 L1653.3 874.2 L1654.3 874.9 L1655.3 875.5 L1656.3 876.1 L1657.3 876.7 L1658.3 877.3 L1659.3 877.9 L1660.3 878.5 L1661.3 879.1 L1662.3 879.7 L1663.3 880.3 L1664.3 880.8 L1665.3 881.4 L1666.3 881.9 L1667.3 882.5 L1668.3 883.0 L1669.3 883.6 L1670.3 884.1 L1671.3 884.6 L1672.3 885.1 L1673.3 885.7 L1674.3 886.2 L1675.3 886.7 L1676.3 887.2 L1677.3 887.6 L1678.3 888.1 L1679.3 888.6 L1680.3 889.1 L1681.3 889.5 L1682.3 890.0 L1683.3 890.5 L1684.3 890.9 L1685.3 891.3 L1686.3 891.8 L1687.3 892.2 L1688.3 892.7 L1689.3 893.1 L1690.3 893.5 L1691.3 893.9 L1692.3 894.3 L1693.3 894.7 L1694.3 895.1 L1695.3 895.5 L1696.3 895.9 L1697.3 896.3 L1698.3 896.7 L1699.3 897.1 L1700.3 897.4 L1701.3 897.8 L1702.3 898.2 L1703.3 898.5 L1704.3 898.9 L1705.3 899.3 L1706.3 899.6 L1707.3 900.0 L1708.3 900.3 L1709.3 900.6 L1710.3 901.0 L1711.3 901.3 L1712.3 901.6 L1713.3 902.0 L1714.3 902.3 L1715.3 902.6 L1716.3 902.9 L1717.3 903.2 L1718.3 903.5 L1719.3 903.9 L1720.3 904.2 L1721.3 904.5 L1722.3 904.8 L1723.3 905.1 L1724.3 905.3 L1725.3 905.6 L1726.3 905.9 L1727.3 906.2 L1728.3 906.5 L1729.3 906.7 L1730.3 907.0 L1731.3 907.3 L1732.3 907.5 L1733.3 907.8 L1734.3 908.0 L1735.3 908.3 L1736.3 908.5 L1737.3 908.7 L1738.3 908.9 L1739.3 909.1 L1740.3 909.3 L1741.3 909.5 L1742.3 909.7 L1743.3 909.9 L1744.3 910.1 L1745.3 910.2 L1746.3 910.4 L1747.3 910.5 L1748.3 910.7 L1749.3 910.8 L1750.3 910.9 L1751.3 911.0 L1752.3 911.1 L1753.3 911.2 L1754.3 911.3 L1755.3 911.4 L1756.3 911.4 L1757.3 911.5 L1758.3 911.5 L1759.3 911.5 L1760.3 911.5 L1761.3 911.5 L1762.3 911.5 L1763.3 911.5 L1764.3 911.4 L1765.3 911.4 L1766.3 911.3 L1767.3 911.2 L1768.3 911.1 L1769.3 911.0 L1770.3 910.9 L1771.3 910.7 L1772.3 910.6 L1773.3 910.4 L1774.3 910.2 L1775.3 910.0 L1776.3 909.8 L1777.3 909.6 L1778.3 909.4 L1779.3 909.1 L1780.3 908.8 L1781.3 908.5 L1782.3 908.2 L1783.3 907.9 L1784.3 907.6 L1785.3 907.3 L1786.3 906.9 L1787.3 906.6 L1788.3 906.2 L1789.3 905.8 L1790.3 905.4 L1791.3 905.0 L1792.3 904.6 L1793.3 904.2 L1794.3 903.7 L1795.3 903.3 L1796.3 902.8 L1797.3 902.3 L1798.3 901.9 L1799.3 901.4 L1800.3 900.9 L1801.3 900.4 L1802.3 899.9 L1803.3 899.3 L1804.3 898.8 L1805.3 898.3 L1806.3 897.7 L1807.3 897.1 L1808.3 896.6 L1809.3 896.0 L1810.3 895.4 L1811.3 894.8 L1812.3 894.2 L1813.3 893.6 L1814.3 893.0 L1815.3 892.4 L1816.3 891.8 L1817.3 891.2 L1818.3 890.5 L1819.3 889.9 L1820.3 889.3 L1821.3 888.6 L1822.3 888.0 L1823.3 887.3 L1824.3 886.6 L1825.3 886.0 L1826.3 885.3 L1827.3 884.6 L1828.3 884.0 L1829.3 883.3 L1830.3 882.6 L1831.3 881.9 L1832.3 881.2 L1833.3 880.5 L1834.3 879.9 L1835.3 879.2 L1836.3 878.5 L1837.3 877.8 L1838.3 877.1 L1839.3 876.4 L1840.3 875.7 L1841.3 875.0 L1842.3 874.3 L1843.3 873.6 L1844.3 872.9 L1845.3 872.2 L1846.3 871.5 L1847.3 870.8 L1848.3 870.1 L1849.3 869.4 L1850.3 868.7 L1851.3 868.0 L1852.3 867.3 L1853.3 866.6 L1854.3 865.9 L1855.3 865.2 L1856.3 864.5 L1857.3 863.8 L1858.3 863.1 L1859.3 862.5 L1860.3 861.8 L1861.3 861.1 L1862.3 860.4 L1863.3 859.8 L1864.3 859.1 L1865.3 858.4 L1866.3 857.8 L1867.3 857.1 L1868.3 856.4 L1869.3 855.8 L1870.3 855.1 L1871.3 854.5 L1872.3 853.8 L1873.3 853.2 L1874.3 852.6 L1875.3 851.9 L1876.3 851.3 L1877.3 850.7 L1878.3 850.1 L1879.3 849.4 L1880.3 848.8 L1881.3 848.2 L1882.3 847.6 L1883.3 847.0 L1884.3 846.4 L1885.3 845.8 L1886.3 845.2 L1887.3 844.6 L1888.3 844.1 L1889.3 843.5 L1890.3 842.9 L1891.3 842.3 L1892.3 841.8 L1893.3 841.2 L1894.3 840.7 L1895.3 840.1 L1896.3 839.6 L1897.3 839.1 L1898.3 838.5 L1899.3 838.0 L1900.3 837.5 L1901.3 837.0 L1902.3 836.5 L1903.3 836.0 L1904.3 835.5 L1905.3 835.0 L1906.3 834.5 L1907.3 834.0 L1908.3 833.6 L1909.3 833.1 L1910.3 832.6 L1911.3 832.2 L1912.3 831.8 L1913.3 831.3 L1914.3 830.9 L1915.3 830.5 L1916.3 830.1 L1917.3 829.7 L1918.3 829.3 L1919.3 828.9 L1920.3 828.5 L1921.3 828.1 L1922.3 827.7 L1923.3 827.4 L1924.3 827.0 L1925.3 826.7 L1926.3 826.3 L1927.3 826.0 L1928.3 825.7 L1929.3 825.4 L1930.3 825.1 L1931.3 824.8 L1932.3 824.5 L1933.3 824.2 L1934.3 823.9 L1935.3 823.7 L1936.3 823.4 L1937.3 823.2 L1938.3 822.9 L1939.3 822.7 L1940.3 822.5 L1941.3 822.3 L1942.3 822.1 L1943.3 821.9 L1944.3 821.7 L1945.3 821.5 L1946.3 821.4 L1947.3 821.2 L1948.3 821.1 L1949.3 820.9 L1950.3 820.8 L1951.3 820.7 L1952.3 820.6 L1953.3 820.5 L1954.3 820.4 L1955.3 820.3 L1956.3 820.3 L1957.3 820.2 L1958.3 820.2 L1959.3 820.1 L1960.3 820.1 L1961.3 820.1 L1962.3 820.0 L1963.3 820.0 L1964.3 820.0 L1965.3 820.0 L1966.3 820.0 L1967.3 820.1 L1968.3 820.1 L1969.3 820.1 L1970.3 820.2 L1971.3 820.2 L1972.3 820.3 L1973.3 820.4 L1974.3 820.5 L1975.3 820.6 L1976.3 820.6 L1977.3 820.7 L1978.3 820.9 L1979.3 821.0 L1980.3 821.1 L1981.3 821.2 L1982.3 821.4 L1983.3 821.5 L1984.3 821.7 L1985.3 821.8 L1986.3 822.0 L1987.3 822.2 L1988.3 822.4 L1989.3 822.6 L1990.3 822.8 L1991.3 823.0 L1992.3 823.2 L1993.3 823.4 L1994.3 823.6 L1995.3 823.8 L1996.3 824.1 L1997.3 824.3 L1998.3 824.6 L1999.3 824.8 L2000.3 825.1 L2001.3 825.4 L2002.3 825.6 L2003.3 825.9 L2004.3 826.2 L2005.3 826.5 L2006.3 826.8 L2007.3 827.1 L2008.3 827.4 L2009.3 827.7 L2010.3 828.1 L2011.3 828.4 L2012.3 828.7 L2013.3 829.1 L2014.3 829.4 L2015.3 829.8 L2016.3 830.1 L2017.3 830.5 L2018.3 830.8 L2019.3 831.2 L2020.3 831.6 L2021.3 832.0 L2022.3 832.4 L2023.3 832.8 L2024.3 833.2 L2025.3 833.6 L2026.3 834.0 L2027.3 834.4 L2028.3 834.8 L2029.3 835.2 L2030.3 835.6 L2031.3 836.1 L2032.3 836.5 L2033.3 837.0 L2034.3 837.4 L2035.3 837.8 L2036.3 838.3 L2037.3 838.8 L2038.3 839.2 L2039.3 839.7 L2040.3 840.1 L2041.3 840.6 L2042.3 841.1 L2043.3 841.6 L2044.3 842.1 L2045.3 842.5 L2046.3 843.0 L2047.3 843.5 L2048.3 844.0 L2049.3 844.5 L2050.3 845.0 L2051.3 845.6 L2052.3 846.1 L2053.3 846.6 L2054.3 847.1 L2055.3 847.6 L2056.3 848.1 L2057.3 848.7 L2058.3 849.2 L2059.3 849.7 L2060.3 850.3 L2061.3 850.8 L2062.3 851.4 L2063.3 851.9 L2064.3 852.4 L2065.3 853.0 L2066.3 853.5 L2067.3 854.1 L2068.3 854.6 L2069.3 855.2 L2070.3 855.8 L2071.3 856.3 L2072.3 856.9 L2073.3 857.4 L2074.3 858.0 L2075.3 858.5 L2076.3 859.1 L2077.3 859.7 L2078.3 860.2 L2079.3 860.8 L2080.3 861.3 L2081.3 861.9 L2082.3 862.5 L2083.3 863.0 L2084.3 863.6 L2085.3 864.1 L2086.3 864.7 L2087.3 865.2 L2088.3 865.8 L2089.3 866.3 L2090.3 866.9 L2091.3 867.4 L2092.3 868.0 L2093.3 868.5 L2094.3 869.1 L2095.3 869.6 L2096.3 870.1 L2097.3 870.7 L2098.3 871.2 L2099.3 871.7 L2100.3 872.3 L2101.3 872.8 L2102.3 873.3 L2103.3 873.8 L2104.3 874.3 L2105.3 874.8 L2106.3 875.3 L2107.3 875.8 L2108.3 876.3 L2109.3 876.8 L2110.3 877.3 L2111.3 877.8 L2112.3 878.3 L2113.3 878.7 L2114.3 879.2 L2115.3 879.7 L2116.3 880.1 L2117.3 880.6 L2118.3 881.0 L2119.3 881.4 L2120.3 881.9 L2121.3 882.3 L2122.3 882.7 L2123.3 883.1 L2124.3 883.5 L2125.3 883.9 L2126.3 884.3 L2127.3 884.7 L2128.3 885.1 L2129.3 885.5 L2130.3 885.8 L2131.3 886.2 L2132.3 886.5 L2133.3 886.9 L2134.3 887.2 L2135.3 887.5 L2136.3 887.8 L2137.3 888.2 L2138.3 888.5 L2139.3 888.8 L2140.3 889.1 L2141.3 889.4 L2142.3 889.6 L2143.3 889.9 L2144.3 890.2 L2145.3 890.5 L2146.3 890.7 L2147.3 891.0 L2148.3 891.2 L2149.3 891.5 L2150.3 891.7 L2151.3 891.9 L2152.3 892.2 L2153.3 892.4 L2154.3 892.6 L2155.3 892.8 L2156.3 893.0 L2157.3 893.2 L2158.3 893.4 L2159.3 893.6 L2160.3 893.8 L2161.3 894.0 L2162.3 894.2 L2163.3 894.4 L2164.3 894.6 L2165.3 894.7 L2166.3 894.9 L2167.3 895.1 L2168.3 895.2 L2169.3 895.4 L2170.3 895.5 L2171.3 895.7 L2172.3 895.8 L2173.3 896.0 L2174.3 896.1 L2175.3 896.3 L2176.3 896.4 L2177.3 896.6 L2178.3 896.7 L2179.3 896.8 L2180.3 897.0 L2181.3 897.1 L2182.3 897.2 L2183.3 897.4 L2184.3 897.5 L2185.3 897.6 L2186.3 897.7 L2187.3 897.8 L2188.3 898.0 L2189.3 898.1 L2190.3 898.2 L2191.3 898.3 L2192.3 898.4 L2193.3 898.6 L2194.3 898.7 L2195.3 898.8 L2196.3 898.9 L2197.3 899.0 L2198.3 899.1 L2199.3 899.3 L2200.3 899.4 L2201.3 899.5 L2202.3 899.6 L2203.3 899.7 L2204.3 899.8 L2205.3 900.0 L2206.3 900.1 L2207.3 900.2 L2208.3 900.3 L2209.3 900.4 L2210.3 900.6 L2211.3 900.7 L2212.3 900.8 L2213.3 900.9 L2214.3 901.1 L2215.3 901.2 L2216.3 901.3 L2217.3 901.5 L2218.3 901.6 L2219.3 901.7 L2220.3 901.8 L2221.3 902.0 L2222.3 902.1 L2223.3 902.2 L2224.3 902.4 L2225.3 902.5 L2226.3 902.6 L2227.3 902.8 L2228.3 902.9 L2229.3 903.0 L2230.3 903.1 L2231.3 903.3 L2232.3 903.4 L2233.3 903.5 L2234.3 903.6 L2235.3 903.7 L2236.3 903.9 L2237.3 904.0 L2238.3 904.1 L2239.3 904.2 L2240.3 904.3 L2241.3 904.4 L2242.3 904.5 L2243.3 904.6 L2244.3 904.7 L2245.3 904.8 L2246.3 904.8 L2247.3 904.9 L2248.3 905.0 L2249.3 905.1 L2250.3 905.1 L2251.3 905.2 L2252.3 905.2 L2253.3 905.3 L2254.3 905.3 L2255.3 905.4 L2256.3 905.4 L2257.3 905.4 L2258.3 905.4 L2259.3 905.5 L2260.3 905.5 L2261.3 905.5 L2262.3 905.5 L2263.3 905.5 L2264.3 905.5 L2265.3 905.4 L2266.3 905.4 L2267.3 905.4 L2268.3 905.3 L2269.3 905.3 L2270.3 905.2 L2271.3 905.1 L2272.3 905.1 L2273.3 905.0 L2274.3 904.9 L2275.3 904.8 L2276.3 904.7 L2277.3 904.6 L2278.3 904.4 L2279.3 904.3 L2280.3 904.1 L2281.3 904.0 L2282.3 903.8 L2283.3 903.6 L2284.3 903.5 L2285.3 903.3 L2286.3 903.1 L2287.3 902.8 L2288.3 902.6 L2289.3 902.4 L2290.3 902.1 L2291.3 901.9 L2292.3 901.6 L2293.3 901.3 L2294.3 901.0 L2295.3 900.7"/>
<path class="c" stroke="#008000" d="M1353.0 93.0 L1354.0 93.2 L1355.0 93.5 L1356.0 93.9 L1357.0 94.5 L1358.0 95.2 L1359.0 96.0 L1360.0 97.0 L1361.0 98.0 L1362.0 99.3 L1363.0 100.6 L1364.0 102.0 L1365.0 103.6 L1366.0 105.2 L1367.0 107.0 L1368.0 108.9 L1369.0 110.9 L1370.0 113.0 L1371.0 115.2 L1372.0 117.6 L1373.0 120.0 L1374.0 122.5 L1375.0 125.1 L1376.0 127.8 L1377.0 130.6 L1378.0 133.5 L1379.0 136.4 L1380.0 139.5 L1381.0 142.6 L1382.0 145.9 L1383.0 149.2 L1384.0 152.5 L1385.0 156.0 L1386.0 159.5 L1387.0 163.1 L1388.0 166.8 L1389.0 170.5 L1390.0 174.3 L1391.0 178.2 L1392.0 182.1 L1393.0 186.1 L1394.0 190.1 L1395.0 194.2 L1396.0 198.4 L1397.0 202.6 L1398.0 206.8 L1399.0 211.1 L1400.0 215.5 L1401.0 219.9 L1402.0 224.3 L1403.0 228.7 L1404.0 233.2 L1405.0 237.7 L1406.0 242.1 L1407.0 246.6 L1408.0 251.1 L1409.0 255.6 L1410.0 260.1 L1411.0 264.5 L1412.0 269.0 L1413.0 273.3 L1414.0 277.7 L1415.0 282.0 L1416.0 286.3 L1417.0 290.5 L1418.0 294.6 L1419.0 298.7 L1420.0 302.8 L1421.0 306.9 L1422.0 311.0 L1423.0 315.1 L1424.0 319.2 L1425.0 323.4 L1426.0 327.5 L1427.0 331.7 L1428.0 336.0 L1429.0 340.2 L1430.0 344.5 L1431.0 348.8 L1432.0 353.2 L1433.0 357.5 L1434.0 361.9 L1435.0 366.3 L1436.0 370.6 L1437.0 375.0 L1438.0 379.5 L1439.0 383.9 L1440.0 388.3 L1441.0 392.7 L1442.0 397.1 L1443.0 401.6 L1444.0 406.0 L1445.0 410.4 L1446.0 414.8 L1447.0 419.2 L1448.0 423.6 L1449.0 428.0 L1450.0 432.3 L1451.0 436.7 L1452.0 441.0 L1453.0 445.3 L1454.0 449.6 L1455.0 453.9 L1456.0 458.1 L1457.0 462.3 L1458.0 466.5 L1459.0 470.7 L1460.0 474.8 L1461.0 478.9 L1462.0 482.9 L1463.0 487.0 L1464.0 491.0 L1465.0 494.9 L1466.0 498.9 L1467.0 502.8 L1468.0 506.7 L1469.0 510.5 L1470.0 514.3 L1471.0 518.1 L1472.0 521.9 L1473.0 525.6 L1474.0 529.3 L1475.0 533.0 L1476.0 536.6 L1477.0 540.3 L1478.0 543.8 L1479.0 547.4 L1480.0 550.9 L1481.0 554.4 L1482.0 557.9 L1483.0 561.3 L1484.0 564.7 L1485.0 568.1 L1486.0 571.4 L1487.0 574.7 L1488.0 578.0 L1489.0 581.3 L1490.0 584.5 L1491.0 587.7 L1492.0 590.8 L1493.0 594.0 L1494.0 597.1 L1495.0 600.1 L1496.0 603.2 L1497.0 606.2 L1498.0 609.2 L1499.0 612.1 L1500.0 615.0 L1501.0 617.9 L1502.0 620.8 L1503.0 623.6 L1504.0 626.4 L1505.0 629.2 L1506.0 631.9 L1507.0 634.7 L1508.0 637.3 L1509.0 640.0 L1510.0 642.6 L1511.0 645.2 L1512.0 647.8 L1513.0 650.3 L1514.0 652.8 L1515.0 655.3 L1516.0 657.7 L1517.0 660.1 L1518.0 662.5 L1519.0 664.8 L1520.0 667.1 L1521.0 669.4 L1522.0 671.7 L1523.0 673.9 L1524.0 676.1 L1525.0 678.3 L1526.0 680.4 L1527.0 682.5 L1528.0 684.6 L1529.0 686.7 L1530.0 688.7 L1531.0 690.7 L1532.0 692.6 L1533.0 694.6 L1534.0 696.5 L1535.0 698.4 L1536.0 700.2 L1537.0 702.1 L1538.0 703.9 L1539.0 705.7 L1540.0 707.4 L1541.0 709.2 L1542.0 710.9 L1543.0 712.6 L1544.0 714.3 L1545.0 716.0 L1546.0 717.7 L1547.0 719.3 L1548.0 721.0 L1549.0 722.6 L1550.0 724.2 L1551.0 725.8 L1552.0 727.3 L1553.0 728.9 L1554.0 730.4 L1555.0 732.0 L1556.0 733.5 L1557.0 735.1 L1558.0 736.6 L1559.0 738.1 L1560.0 739.6 L1561.0 741.1 L1562.0 742.6 L1563.0 744.1 L1564.0 745.5 L1565.0 747.0 L1566.0 748.5 L1567.0 750.0 L1568.0 751.4 L1569.0 752.9 L1570.0 754.3 L1571.0 755.8 L1572.0 757.2 L1573.0 758.7 L1574.0 760.1 L1575.0 761.5 L1576.0 762.9 L1577.0 764.3 L1578.0 765.7 L1579.0 767.1 L1580.0 768.5 L1581.0 769.9 L1582.0 771.3 L1583.0 772.6 L1584.0 774.0 L1585.0 775.4 L1586.0 776.7 L1587.0 778.0 L1588.0 779.4 L1589.0 780.7 L1590.0 782.0 L1591.0 783.3 L1592.0 784.6 L1593.0 785.9 L1594.0 787.2 L1595.0 788.4 L1596.0 789.7 L1597.0 791.0 L1598.0 792.2 L1599.0 793.4 L1600.0 794.7 L1601.0 795.9 L1602.0 797.1 L1603.0 798.3 L1604.0 799.5 L1605.0 800.7 L1606.0 801.8 L1607.0 803.0 L1608.0 804.2 L1609.0 805.3 L1610.0 806.4 L1611.0 807.5 L1612.0 808.7 L1613.0 809.8 L1614.0 810.8 L1615.0 811.9 L1616.0 813.0 L1617.0 814.1 L1618.0 815.1 L1619.0 816.1 L1620.0 817.2 L1621.0 818.2 L1622.0 819.2 L1623.0 820.2 L1624.0 821.2 L1625.0 822.2 L1626.0 823.2 L1627.0 824.1 L1628.0 825.1 L1629.0 826.0 L1630.0 827.0 L1631.0 827.9 L1632.0 828.8 L1633.0 829.7 L1634.0 830.6 L1635.0 831.5 L1636.0 832.4 L1637.0 833.3 L1638.0 834.1 L1639.0 835.0 L1640.0 835.8 L1641.0 836.7 L1642.0 837.5 L1643.0 838.3 L1644.0 839.1 L1645.0 839.9 L1646.0 840.7 L1647.0 841.5 L1648.0 842.3 L1649.0 843.1 L1650.0 843.8 L1651.0 844.6 L1652.0 845.3 L1653.0 846.1 L1654.0 846.8 L1655.0 847.5 L1656.0 848.2 L1657.0 848.9 L1658.0 849.6 L1659.0 850.3 L1660.0 850.9 L1661.0 851.6 L1662.0 852.3 L1663.0 852.9 L1664.0 853.6 L1665.0 854.2 L1666.0 854.8 L1667.0 855.4 L1668.0 856.0 L1669.0 856.6 L1670.0 857.2 L1671.0 857.8 L1672.0 858.4 L1673.0 859.0 L1674.0 859.5 L1675.0 860.1 L1676.0 860.6 L1677.0 861.2 L1678.0 861.7 L1679.0 862.2 L1680.0 862.7 L1681.0 863.3 L1682.0 863.8 L1683.0 864.3 L1684.0 864.7 L1685.0 865.2 L1686.0 865.7 L1687.0 866.1 L1688.0 866.6 L1689.0 867.1 L1690.0 867.5 L1691.0 867.9 L1692.0 868.4 L1693.0 868.8 L1694.0 869.2 L1695.0 869.6 L1696.0 870.0 L1697.0 870.4 L1698.0 870.8 L1699.0 871.2 L1700.0 871.5 L1701.0 871.9 L1702.0 872.2 L1703.0 872.6 L1704.0 872.9 L1705.0 873.3 L1706.0 873.6 L1707.0 873.9 L1708.0 874.3 L1709.0 874.6 L1710.0 874.9 L1711.0 875.2 L1712.0 875.5 L1713.0 875.7 L1714.0 876.0 L1715.0 876.3 L1716.0 876.6 L1717.0 876.8 L1718.0 877.1 L1719.0 877.3 L1720.0 877.6 L1721.0 877.8 L1722.0 878.0 L1723.0 878.2 L1724.0 878.5 L1725.0 878.7 L1726.0 878.9 L1727.0 879.1 L1728.0 879.3 L1729.0 879.5 L1730.0 879.6 L1731.0 879.8 L1732.0 880.0 L1733.0 880.1 L1734.0 880.3 L1735.0 880.4 L1736.0 880.6 L1737.0 880.7 L1738.0 880.9 L1739.0 881.0 L1740.0 881.1 L1741.0 881.2 L1742.0 881.4 L1743.0 881.5 L1744.0 881.6 L1745.0 881.7 L1746.0 881.7 L1747.0 881.8 L1748.0 881.9 L1749.0 882.0 L1750.0 882.1 L1751.0 882.1 L1752.0 882.2 L1753.0 882.2 L1754.0 882.3 L1755.0 882.3 L1756.0 882.4 L1757.0 882.4 L1758.0 882.4 L1759.0 882.5 L1760.0 882.5 L1761.0 882.5 L1762.0 882.5 L1763.0 882.5 L1764.0 882.5 L1765.0 882.5 L1766.0 882.5 L1767.0 882.5 L1768.0 882.5 L1769.0 882.5 L1770.0 882.4 L1771.0 882.4 L1772.0 882.4 L1773.0 882.3 L1774.0 882.3 L1775.0 882.2 L1776.0 882.2 L1777.0 882.1 L1778.0 882.1 L1779.0 882.0 L1780.0 881.9 L1781.0 881.9 L1782.0 881.8 L1783.0 881.7 L1784.0 881.6 L1785.0 881.5 L1786.0 881.4 L1787.0 881.3 L1788.0 881.2 L1789.0 881.1 L1790.0 881.0 L1791.0 880.9 L1792.0 880.8 L1793.0 880.7 L1794.0 880.5 L1795.0 880.4 L1796.0 880.3 L1797.0 880.1 L1798.0 880.0 L1799.0 879.9 L1800.0 879.7 L1801.0 879.6 L1802.0 879.4 L1803.0 879.3 L1804.0 879.1 L1805.0 878.9 L1806.0 878.8 L1807.0 878.6 L1808.0 878.4 L1809.0 878.3 L1810.0 878.1 L1811.0 877.9 L1812.0 877.7 L1813.0 877.5 L1814.0 877.3 L1815.0 877.1 L1816.0 876.9 L1817.0 876.7 L1818.0 876.5 L1819.0 876.3 L1820.0 876.1 L1821.0 875.9 L1822.0 875.7 L1823.0 875.5 L1824.0 875.3 L1825.0 875.1 L1826.0 874.8 L1827.0 874.6 L1828.0 874.4 L1829.0 874.1 L1830.0 873.9 L1831.0 873.7 L1832.0 873.4 L1833.0 873.2 L1834.0 873.0 L1835.0 872.7 L1836.0 872.5 L1837.0 872.2 L1838.0 872.0 L1839.0 871.7 L1840.0 871.5 L1841.0 871.2 L1842.0 870.9 L1843.0 870.7 L1844.0 870.4 L1845.0 870.1 L1846.0 869.9 L1847.0 869.6 L1848.0 869.3 L1849.0 869.1 L1850.0 868.8 L1851.0 868.5 L1852.0 868.2 L1853.0 868.0 L1854.0 867.7 L1855.0 867.4 L1856.0 867.1 L1857.0 866.8 L1858.0 866.5 L1859.0 866.2 L1860.0 866.0 L1861.0 865.7 L1862.0 865.4 L1863.0 865.1 L1864.0 864.8 L1865.0 864.5 L1866.0 864.2 L1867.0 863.9 L1868.0 863.6 L1869.0 863.4 L1870.0 863.1 L1871.0 862.8 L1872.0 862.5 L1873.0 862.2 L1874.0 861.9 L1875.0 861.6 L1876.0 861.4 L1877.0 861.1 L1878.0 860.8 L1879.0 860.5 L1880.0 860.2 L1881.0 860.0 L1882.0 859.7 L1883.0 859.4 L1884.0 859.2 L1885.0 858.9 L1886.0 858.6 L1887.0 858.4 L1888.0 858.1 L1889.0 857.9 L1890.0 857.6 L1891.0 857.4 L1892.0 857.1 L1893.0 856.9 L1894.0 856.6 L1895.0 856.4 L1896.0 856.2 L1897.0 855.9 L1898.0 855.7 L1899.0 855.5 L1900.0 855.3 L1901.0 855.1 L1902.0 854.9 L1903.0 854.7 L1904.0 854.5 L1905.0 854.3 L1906.0 854.1 L1907.0 853.9 L1908.0 853.7 L1909.0 853.5 L1910.0 853.4 L1911.0 853.2 L1912.0 853.1 L1913.0 852.9 L1914.0 852.8 L1915.0 852.6 L1916.0 852.5 L1917.0 852.4 L1918.0 852.2 L1919.0 852.1 L1920.0 852.0 L1921.0 851.9 L1922.0 851.8 L1923.0 851.7 L1924.0 851.6 L1925.0 851.5 L1926.0 851.4 L1927.0 851.3 L1928.0 851.3 L1929.0 851.2 L1930.0 851.1 L1931.0 851.0 L1932.0 851.0 L1933.0 850.9 L1934.0 850.9 L1935.0 850.8 L1936.0 850.8 L1937.0 850.7 L1938.0 850.7 L1939.0 850.6 L1940.0 850.6 L1941.0 850.5 L1942.0 850.5 L1943.0 850.4 L1944.0 850.4 L1945.0 850.4 L1946.0 850.3 L1947.0 850.3 L1948.0 850.3 L1949.0 850.3 L1950.0 850.2 L1951.0 850.2 L1952.0 850.2 L1953.0 850.1 L1954.0 850.1 L1955.0 850.1 L1956.0 850.1 L1957.0 850.0 L1958.0 850.0 L1959.0 850.0 L1960.0 850.0 L1961.0 849.9 L1962.0 849.9 L1963.0 849.9 L1964.0 849.9 L1965.0 849.8 L1966.0 849.8 L1967.0 849.8 L1968.0 849.8 L1969.0 849.7 L1970.0 849.7 L1971.0 849.7 L1972.0 849.7 L1973.0 849.6 L1974.0 849.6 L1975.0 849.6 L1976.0 849.6 L1977.0 849.6 L1978.0 849.5 L1979.0 849.5 L1980.0 849.5 L1981.0 849.5 L1982.0 849.5 L1983.0 849.5 L1984.0 849.4 L1985.0 849.4 L1986.0 849.4 L1987.0 849.4 L1988.0 849.4 L1989.0 849.4 L1990.0 849.4 L1991.0 849.4 L1992.0 849.3 L1993.0 849.3 L1994.0 849.3 L1995.0 849.3 L1996.0 849.3 L1997.0 849.3 L1998.0 849.3 L1999.0 849.3 L2000.0 849.3 L2001.0 849.3 L2002.0 849.3 L2003.0 849.3 L2004.0 849.3 L2005.0 849.3 L2006.0 849.3 L2007.0 849.3 L2008.0 849.3 L2009.0 849.3 L2010.0 849.3 L2011.0 849.4 L2012.0 849.4 L2013.0 849.4 L2014.0 849.4 L2015.0 849.4 L2016.0 849.4 L2017.0 849.4 L2018.0 849.5 L2019.0 849.5 L2020.0 849.5 L2021.0 849.5 L2022.0 849.5 L2023.0 849.6 L2024.0 849.6 L2025.0 849.6 L2026.0 849.7 L2027.0 849.7 L2028.0 849.7 L2029.0 849.7 L2030.0 849.8 L2031.0 849.8 L2032.0 849.9 L2033.0 849.9 L2034.0 849.9 L2035.0 850.0 L2036.0 850.0 L2037.0 850.1 L2038.0 850.1 L2039.0 850.2 L2040.0 850.2 L2041.0 850.3 L2042.0 850.3 L2043.0 850.4 L2044.0 850.4 L2045.0 850.5 L2046.0 850.6 L2047.0 850.6 L2048.0 850.7 L2049.0 850.8 L2050.0 850.8 L2051.0 850.9 L2052.0 851.0 L2053.0 851.1 L2054.0 851.1 L2055.0 851.2 L2056.0 851.3 L2057.0 851.4 L2058.0 851.5 L2059.0 851.6 L2060.0 851.6 L2061.0 851.7 L2062.0 851.8 L2063.0 851.9 L2064.0 852.0 L2065.0 852.1 L2066.0 852.2 L2067.0 852.3 L2068.0 852.4 L2069.0 852.5 L2070.0 852.7 L2071.0 852.8 L2072.0 852.9 L2073.0 853.0 L2074.0 853.1 L2075.0 853.2 L2076.0 853.4 L2077.0 853.5 L2078.0 853.6 L2079.0 853.8 L2080.0 853.9 L2081.0 854.0 L2082.0 854.2 L2083.0 854.3 L2084.0 854.4 L2085.0 854.6 L2086.0 854.7 L2087.0 854.9 L2088.0 855.0 L2089.0 855.2 L2090.0 855.3 L2091.0 855.5 L2092.0 855.6 L2093.0 855.8 L2094.0 855.9 L2095.0 856.1 L2096.0 856.2 L2097.0 856.4 L2098.0 856.6 L2099.0 856.7 L2100.0 856.9 L2101.0 857.1 L2102.0 857.3 L2103.0 857.4 L2104.0 857.6 L2105.0 857.8 L2106.0 858.0 L2107.0 858.1 L2108.0 858.3 L2109.0 858.5 L2110.0 858.7 L2111.0 858.9 L2112.0 859.0 L2113.0 859.2 L2114.0 859.4 L2115.0 859.6 L2116.0 859.8 L2117.0 860.0 L2118.0 860.2 L2119.0 860.4 L2120.0 860.6 L2121.0 860.8 L2122.0 861.0 L2123.0 861.2 L2124.0 861.4 L2125.0 861.6 L2126.0 861.8 L2127.0 862.0 L2128.0 862.2 L2129.0 862.4 L2130.0 862.6 L2131.0 862.8 L2132.0 863.0 L2133.0 863.2 L2134.0 863.4 L2135.0 863.7 L2136.0 863.9 L2137.0 864.1 L2138.0 864.3 L2139.0 864.5 L2140.0 864.7 L2141.0 864.9 L2142.0 865.2 L2143.0 865.4 L2144.0 865.6 L2145.0 865.8 L2146.0 866.0 L2147.0 866.3 L2148.0 866.5 L2149.0 866.7 L2150.0 866.9 L2151.0 867.2 L2152.0 867.4 L2153.0 867.6 L2154.0 867.8 L2155.0 868.1 L2156.0 868.3 L2157.0 868.5 L2158.0 868.7 L2159.0 869.0 L2160.0 869.2 L2161.0 869.4 L2162.0 869.7 L2163.0 869.9 L2164.0 870.1 L2165.0 870.4 L2166.0 870.6 L2167.0 870.8 L2168.0 871.1 L2169.0 871.3 L2170.0 871.5 L2171.0 871.8 L2172.0 872.0 L2173.0 872.2 L2174.0 872.5 L2175.0 872.7 L2176.0 872.9 L2177.0 873.2 L2178.0 873.4 L2179.0 873.6 L2180.0 873.9 L2181.0 874.1 L2182.0 874.3 L2183.0 874.6 L2184.0 874.8 L2185.0 875.0 L2186.0 875.3 L2187.0 875.5 L2188.0 875.7 L2189.0 876.0 L2190.0 876.2 L2191.0 876.4 L2192.0 876.7 L2193.0 876.9 L2194.0 877.1 L2195.0 877.4 L2196.0 877.6 L2197.0 877.8 L2198.0 878.1 L2199.0 878.3 L2200.0 878.5 L2201.0 878.8 L2202.0 879.0 L2203.0 879.2 L2204.0 879.5 L2205.0 879.7 L2206.0 879.9 L2207.0 880.2 L2208.0 880.4 L2209.0 880.6 L2210.0 880.8 L2211.0 881.1 L2212.0 881.3 L2213.0 881.5 L2214.0 881.7 L2215.0 882.0 L2216.0 882.2 L2217.0 882.4 L2218.0 882.6 L2219.0 882.9 L2220.0 883.1 L2221.0 883.3 L2222.0 883.5 L2223.0 883.7 L2224.0 884.0 L2225.0 884.2 L2226.0 884.4 L2227.0 884.6 L2228.0 884.8 L2229.0 885.1 L2230.0 885.3 L2231.0 885.5 L2232.0 885.7 L2233.0 885.9 L2234.0 886.1 L2235.0 886.3 L2236.0 886.5 L2237.0 886.7 L2238.0 886.9 L2239.0 887.2 L2240.0 887.4 L2241.0 887.6 L2242.0 887.8 L2243.0 888.0 L2244.0 888.2 L2245.0 888.4 L2246.0 888.6 L2247.0 888.8 L2248.0 888.9 L2249.0 889.1 L2250.0 889.3 L2251.0 889.5 L2252.0 889.7 L2253.0 889.9 L2254.0 890.1 L2255.0 890.3 L2256.0 890.5 L2257.0 890.6 L2258.0 890.8 L2259.0 891.0 L2260.0 891.2 L2261.0 891.4 L2262.0 891.5 L2263.0 891.7 L2264.0 891.9 L2265.0 892.1 L2266.0 892.2 L2267.0 892.4 L2268.0 892.6 L2269.0 892.7 L2270.0 892.9 L2271.0 893.0 L2272.0 893.2 L2273.0 893.4 L2274.0 893.5 L2275.0 893.7 L2276.0 893.8 L2277.0 894.0 L2278.0 894.1 L2279.0 894.3 L2280.0 894.4 L2281.0 894.6 L2282.0 894.7 L2283.0 894.9 L2284.0 895.0 L2285.0 895.1 L2286.0 895.3 L2287.0 895.4 L2288.0 895.5 L2289.0 895.7 L2290.0 895.8 L2291.0 895.9 L2292.0 896.0 L2293.0 896.1 L2294.0 896.3 L2295.0 896.4 L2296.0 896.5"/>
<path class="c" stroke="#ff0000" d="M1353.0 93.0 L1354.0 93.3 L1355.0 93.8 L1356.0 94.4 L1357.0 95.0 L1358.0 95.8 L1359.0 96.6 L1360.0 97.6 L1361.0 98.6 L1362.0 99.7 L1363.0 100.9 L1364.0 102.2 L1365.0 103.5 L1366.0 104.9 L1367.0 106.4 L1368.0 108.0 L1369.0 109.6 L1370.0 111.2 L1371.0 113.0 L1372.0 114.7 L1373.0 116.6 L1374.0 118.4 L1375.0 120.4 L1376.0 122.3 L1377.0 124.3 L1378.0 126.3 L1379.0 128.4 L1380.0 130.5 L1381.0 132.7 L1382.0 134.9 L1383.0 137.1 L1384.0 139.4 L1385.0 141.7 L1386.0 144.1 L1387.0 146.6 L1388.0 149.0 L1389.0 151.6 L1390.0 154.1 L1391.0 156.8 L1392.0 159.5 L1393.0 162.2 L1394.0 165.0 L1395.0 167.9 L1396.0 170.7 L1397.0 173.7 L1398.0 176.6 L1399.0 179.5 L1400.0 182.5 L1401.0 185.4 L1402.0 188.3 L1403.0 191.2 L1404.0 194.1 L1405.0 196.9 L1406.0 199.7 L1407.0 202.4 L1408.0 205.1 L1409.0 207.8 L1410.0 210.5 L1411.0 213.1 L1412.0 215.7 L1413.0 218.2 L1414.0 220.8 L1415.0 223.3 L1416.0 225.8 L1417.0 228.2 L1418.0 230.7 L1419.0 233.1 L1420.0 235.5 L1421.0 237.9 L1422.0 240.3 L1423.0 242.7 L1424.0 245.1 L1425.0 247.5 L1426.0 249.8 L1427.0 252.2 L1428.0 254.6 L1429.0 256.9 L1430.0 259.3 L1431.0 261.6 L1432.0 264.0 L1433.0 266.3 L1434.0 268.6 L1435.0 270.9 L1436.0 273.2 L1437.0 275.5 L1438.0 277.7 L1439.0 280.0 L1440.0 282.2 L1441.0 284.3 L1442.0 286.4 L1443.0 288.5 L1444.0 290.6 L1445.0 292.7 L1446.0 294.7 L1447.0 296.6 L1448.0 298.6 L1449.0 300.5 L1450.0 302.5 L1451.0 304.3 L1452.0 306.2 L1453.0 308.1 L1454.0 309.9 L1455.0 311.7 L1456.0 313.5 L1457.0 315.3 L1458.0 317.1 L1459.0 318.8 L1460.0 320.6 L1461.0 322.3 L1462.0 324.0 L1463.0 325.8 L1464.0 327.5 L1465.0 329.2 L1466.0 330.9 L1467.0 332.6 L1468.0 334.3 L1469.0 336.0 L1470.0 337.7 L1471.0 339.4 L1472.0 341.1 L1473.0 342.8 L1474.0 344.5 L1475.0 346.2 L1476.0 347.8 L1477.0 349.5 L1478.0 351.2 L1479.0 352.8 L1480.0 354.4 L1481.0 356.1 L1482.0 357.7 L1483.0 359.3 L1484.0 360.8 L1485.0 362.4 L1486.0 363.9 L1487.0 365.5 L1488.0 367.0 L1489.0 368.5 L1490.0 370.0 L1491.0 371.4 L1492.0 372.9 L1493.0 374.3 L1494.0 375.7 L1495.0 377.2 L1496.0 378.6 L1497.0 379.9 L1498.0 381.3 L1499.0 382.7 L1500.0 384.0 L1501.0 385.3 L1502.0 386.7 L1503.0 388.0 L1504.0 389.3 L1505.0 390.6 L1506.0 391.8 L1507.0 393.1 L1508.0 394.4 L1509.0 395.6 L1510.0 396.8 L1511.0 398.1 L1512.0 399.3 L1513.0 400.5 L1514.0 401.7 L1515.0 402.9 L1516.0 404.1 L1517.0 405.3 L1518.0 406.4 L1519.0 407.6 L1520.0 408.7 L1521.0 409.9 L1522.0 411.0 L1523.0 412.2 L1524.0 413.3 L1525.0 414.4 L1526.0 415.6 L1527.0 416.7 L1528.0 417.8 L1529.0 418.9 L1530.0 420.0 L1531.0 421.1 L1532.0 422.2 L1533.0 423.3 L1534.0 424.4 L1535.0 425.5 L1536.0 426.6 L1537.0 427.7 L1538.0 428.8 L1539.0 429.9 L1540.0 431.0 L1541.0 432.0 L1542.0 433.1 L1543.0 434.2 L1544.0 435.3 L1545.0 436.4 L1546.0 437.5 L1547.0 438.6 L1548.0 439.7 L1549.0 440.7 L1550.0 441.8 L1551.0 442.9 L1552.0 444.0 L1553.0 445.1 L1554.0 446.2 L1555.0 447.3 L1556.0 448.4 L1557.0 449.5 L1558.0 450.6 L1559.0 451.7 L1560.0 452.8 L1561.0 453.9 L1562.0 455.0 L1563.0 456.1 L1564.0 457.2 L1565.0 458.3 L1566.0 459.4 L1567.0 460.5 L1568.0 461.6 L1569.0 462.7 L1570.0 463.8 L1571.0 464.9 L1572.0 466.0 L1573.0 467.1 L1574.0 468.3 L1575.0 469.4 L1576.0 470.5 L1577.0 471.6 L1578.0 472.7 L1579.0 473.8 L1580.0 474.9 L1581.0 476.0 L1582.0 477.1 L1583.0 478.2 L1584.0 479.3 L1585.0 480.4 L1586.0 481.6 L1587.0 482.7 L1588.0 483.8 L1589.0 484.9 L1590.0 486.0 L1591.0 487.1 L1592.0 488.2 L1593.0 489.3 L1594.0 490.4 L1595.0 491.5 L1596.0 492.6 L1597.0 493.7 L1598.0 494.8 L1599.0 495.9 L1600.0 497.1 L1601.0 498.2 L1602.0 499.3 L1603.0 500.4 L1604.0 501.5 L1605.0 502.6 L1606.0 503.7 L1607.0 504.8 L1608.0 505.9 L1609.0 507.0 L1610.0 508.1 L1611.0 509.2 L1612.0 510.3 L1613.0 511.4 L1614.0 512.5 L1615.0 513.6 L1616.0 514.7 L1617.0 515.8 L1618.0 516.9 L1619.0 517.9 L1620.0 519.0 L1621.0 520.1 L1622.0 521.2 L1623.0 522.3 L1624.0 523.4 L1625.0 524.5 L1626.0 525.5 L1627.0 526.6 L1628.0 527.7 L1629.0 528.8 L1630.0 529.9 L1631.0 530.9 L1632.0 532.0 L1633.0 533.1 L1634.0 534.1 L1635.0 535.2 L1636.0 536.3 L1637.0 537.3 L1638.0 538.4 L1639.0 539.4 L1640.0 540.5 L1641.0 541.5 L1642.0 542.6 L1643.0 543.6 L1644.0 544.7 L1645.0 545.7 L1646.0 546.8 L1647.0 547.8 L1648.0 548.8 L1649.0 549.9 L1650.0 550.9 L1651.0 551.9 L1652.0 552.9 L1653.0 554.0 L1654.0 555.0 L1655.0 556.0 L1656.0 557.0 L1657.0 558.0 L1658.0 559.0 L1659.0 560.0 L1660.0 561.0 L1661.0 562.0 L1662.0 563.0 L1663.0 564.0 L1664.0 564.9 L1665.0 565.9 L1666.0 566.9 L1667.0 567.9 L1668.0 568.9 L1669.0 569.8 L1670.0 570.8 L1671.0 571.8 L1672.0 572.7 L1673.0 573.7 L1674.0 574.7 L1675.0 575.6 L1676.0 576.6 L1677.0 577.6 L1678.0 578.6 L1679.0 579.5 L1680.0 580.5 L1681.0 581.5 L1682.0 582.4 L1683.0 583.4 L1684.0 584.4 L1685.0 585.4 L1686.0 586.3 L1687.0 587.3 L1688.0 588.3 L1689.0 589.3 L1690.0 590.3 L1691.0 591.3 L1692.0 592.3 L1693.0 593.3 L1694.0 594.3 L1695.0 595.3 L1696.0 596.3 L1697.0 597.3 L1698.0 598.4 L1699.0 599.4 L1700.0 600.4 L1701.0 601.5 L1702.0 602.5 L1703.0 603.6 L1704.0 604.6 L1705.0 605.7 L1706.0 606.8 L1707.0 607.8 L1708.0 608.9 L1709.0 610.0 L1710.0 611.0 L1711.0 612.1 L1712.0 613.2 L1713.0 614.3 L1714.0 615.3 L1715.0 616.4 L1716.0 617.4 L1717.0 618.5 L1718.0 619.6 L1719.0 620.6 L1720.0 621.6 L1721.0 622.7 L1722.0 623.7 L1723.0 624.7 L1724.0 625.7 L1725.0 626.7 L1726.0 627.7 L1727.0 628.7 L1728.0 629.7 L1729.0 630.7 L1730.0 631.7 L1731.0 632.6 L1732.0 633.6 L1733.0 634.5 L1734.0 635.5 L1735.0 636.4 L1736.0 637.3 L1737.0 638.3 L1738.0 639.2 L1739.0 640.1 L1740.0 641.0 L1741.0 641.9 L1742.0 642.8 L1743.0 643.7 L1744.0 644.6 L1745.0 645.5 L1746.0 646.3 L1747.0 647.2 L1748.0 648.1 L1749.0 648.9 L1750.0 649.8 L1751.0 650.6 L1752.0 651.4 L1753.0 652.3 L1754.0 653.1 L1755.0 653.9 L1756.0 654.7 L1757.0 655.5 L1758.0 656.4 L1759.0 657.2 L1760.0 658.0 L1761.0 658.7 L1762.0 659.5 L1763.0 660.3 L1764.0 661.1 L1765.0 661.9 L1766.0 662.6 L1767.0 663.4 L1768.0 664.2 L1769.0 664.9 L1770.0 665.7 L1771.0 666.4 L1772.0 667.2 L1773.0 667.9 L1774.0 668.6 L1775.0 669.4 L1776.0 670.1 L1777.0 670.8 L1778.0 671.5 L1779.0 672.2 L1780.0 673.0 L1781.0 673.7 L1782.0 674.4 L1783.0 675.1 L1784.0 675.8 L1785.0 676.5 L1786.0 677.2 L1787.0 677.8 L1788.0 678.5 L1789.0 679.2 L1790.0 679.9 L1791.0 680.6 L1792.0 681.2 L1793.0 681.9 L1794.0 682.6 L1795.0 683.2 L1796.0 683.9 L1797.0 684.6 L1798.0 685.2 L1799.0 685.9 L1800.0 686.5 L1801.0 687.2 L1802.0 687.8 L1803.0 688.5 L1804.0 689.1 L1805.0 689.8 L1806.0 690.4 L1807.0 691.0 L1808.0 691.7 L1809.0 692.3 L1810.0 692.9 L1811.0 693.6 L1812.0 694.2 L1813.0 694.8 L1814.0 695.4 L1815.0 696.1 L1816.0 696.7 L1817.0 697.3 L1818.0 697.9 L1819.0 698.5 L1820.0 699.2 L1821.0 699.8 L1822.0 700.4 L1823.0 701.0 L1824.0 701.6 L1825.0 702.2 L1826.0 702.8 L1827.0 703.4 L1828.0 704.0 L1829.0 704.7 L1830.0 705.3 L1831.0 705.9 L1832.0 706.5 L1833.0 707.1 L1834.0 707.7 L1835.0 708.3 L1836.0 708.9 L1837.0 709.5 L1838.0 710.1 L1839.0 710.7 L1840.0 711.3 L1841.0 711.9 L1842.0 712.5 L1843.0 713.2 L1844.0 713.8 L1845.0 714.4 L1846.0 715.0 L1847.0 715.6 L1848.0 716.2 L1849.0 716.8 L1850.0 717.4 L1851.0 718.0 L1852.0 718.6 L1853.0 719.2 L1854.0 719.9 L1855.0 720.5 L1856.0 721.1 L1857.0 721.7 L1858.0 722.3 L1859.0 722.9 L1860.0 723.6 L1861.0 724.2 L1862.0 724.8 L1863.0 725.4 L1864.0 726.1 L1865.0 726.7 L1866.0 727.3 L1867.0 728.0 L1868.0 728.6 L1869.0 729.2 L1870.0 729.9 L1871.0 730.5 L1872.0 731.1 L1873.0 731.8 L1874.0 732.4 L1875.0 733.1 L1876.0 733.7 L1877.0 734.4 L1878.0 735.0 L1879.0 735.7 L1880.0 736.3 L1881.0 737.0 L1882.0 737.7 L1883.0 738.3 L1884.0 739.0 L1885.0 739.7 L1886.0 740.4 L1887.0 741.0 L1888.0 741.7 L1889.0 742.4 L1890.0 743.1 L1891.0 743.7 L1892.0 744.4 L1893.0 745.1 L1894.0 745.8 L1895.0 746.5 L1896.0 747.1 L1897.0 747.8 L1898.0 748.5 L1899.0 749.2 L1900.0 749.8 L1901.0 750.5 L1902.0 751.2 L1903.0 751.9 L1904.0 752.5 L1905.0 753.2 L1906.0 753.9 L1907.0 754.5 L1908.0 755.2 L1909.0 755.8 L1910.0 756.5 L1911.0 757.1 L1912.0 757.8 L1913.0 758.4 L1914.0 759.1 L1915.0 759.7 L1916.0 760.3 L1917.0 760.9 L1918.0 761.5 L1919.0 762.2 L1920.0 762.8 L1921.0 763.4 L1922.0 764.0 L1923.0 764.6 L1924.0 765.1 L1925.0 765.7 L1926.0 766.3 L1927.0 766.8 L1928.0 767.4 L1929.0 767.9 L1930.0 768.5 L1931.0 769.0 L1932.0 769.5 L1933.0 770.1 L1934.0 770.6 L1935.0 771.1 L1936.0 771.6 L1937.0 772.0 L1938.0 772.5 L1939.0 773.0 L1940.0 773.4 L1941.0 773.9 L1942.0 774.3 L1943.0 774.7 L1944.0 775.1 L1945.0 775.5 L1946.0 775.9 L1947.0 776.3 L1948.0 776.7 L1949.0 777.0 L1950.0 777.4 L1951.0 777.8 L1952.0 778.1 L1953.0 778.4 L1954.0 778.8 L1955.0 779.1 L1956.0 779.4 L1957.0 779.7 L1958.0 780.0 L1959.0 780.3 L1960.0 780.6 L1961.0 780.9 L1962.0 781.1 L1963.0 781.4 L1964.0 781.7 L1965.0 781.9 L1966.0 782.2 L1967.0 782.5 L1968.0 782.7 L1969.0 783.0 L1970.0 783.2 L1971.0 783.5 L1972.0 783.7 L1973.0 783.9 L1974.0 784.2 L1975.0 784.4 L1976.0 784.7 L1977.0 784.9 L1978.0 785.1 L1979.0 785.4 L1980.0 785.6 L1981.0 785.9 L1982.0 786.1 L1983.0 786.3 L1984.0 786.6 L1985.0 786.8 L1986.0 787.1 L1987.0 787.3 L1988.0 787.6 L1989.0 787.8 L1990.0 788.1 L1991.0 788.3 L1992.0 788.6 L1993.0 788.9 L1994.0 789.2 L1995.0 789.4 L1996.0 789.7 L1997.0 790.0 L1998.0 790.3 L1999.0 790.6 L2000.0 790.9 L2001.0 791.2 L2002.0 791.5 L2003.0 791.9 L2004.0 792.2 L2005.0 792.5 L2006.0 792.9 L2007.0 793.2 L2008.0 793.6 L2009.0 794.0 L2010.0 794.3 L2011.0 794.7 L2012.0 795.1 L2013.0 795.5 L2014.0 795.9 L2015.0 796.3 L2016.0 796.7 L2017.0 797.2 L2018.0 797.6 L2019.0 798.0 L2020.0 798.5 L2021.0 798.9 L2022.0 799.4 L2023.0 799.8 L2024.0 800.3 L2025.0 800.7 L2026.0 801.2 L2027.0 801.7 L2028.0 802.1 L2029.0 802.6 L2030.0 803.1 L2031.0 803.6 L2032.0 804.1 L2033.0 804.6 L2034.0 805.1 L2035.0 805.6 L2036.0 806.1 L2037.0 806.6 L2038.0 807.1 L2039.0 807.6 L2040.0 808.1 L2041.0 808.7 L2042.0 809.2 L2043.0 809.7 L2044.0 810.2 L2045.0 810.7 L2046.0 811.3 L2047.0 811.8 L2048.0 812.3 L2049.0 812.9 L2050.0 813.4 L2051.0 813.9 L2052.0 814.5 L2053.0 815.0 L2054.0 815.5 L2055.0 816.1 L2056.0 816.6 L2057.0 817.1 L2058.0 817.7 L2059.0 818.2 L2060.0 818.7 L2061.0 819.3 L2062.0 819.8 L2063.0 820.3 L2064.0 820.9 L2065.0 821.4 L2066.0 821.9 L2067.0 822.5 L2068.0 823.0 L2069.0 823.5 L2070.0 824.0 L2071.0 824.5 L2072.0 825.1 L2073.0 825.6 L2074.0 826.1 L2075.0 826.6 L2076.0 827.1 L2077.0 827.6 L2078.0 828.2 L2079.0 828.7 L2080.0 829.2 L2081.0 829.7 L2082.0 830.2 L2083.0 830.7 L2084.0 831.2 L2085.0 831.7 L2086.0 832.2 L2087.0 832.7 L2088.0 833.2 L2089.0 833.7 L2090.0 834.2 L2091.0 834.7 L2092.0 835.2 L2093.0 835.7 L2094.0 836.2 L2095.0 836.7 L2096.0 837.2 L2097.0 837.7 L2098.0 838.2 L2099.0 838.7 L2100.0 839.2 L2101.0 839.7 L2102.0 840.1 L2103.0 840.6 L2104.0 841.1 L2105.0 841.6 L2106.0 842.1 L2107.0 842.6 L2108.0 843.1 L2109.0 843.6 L2110.0 844.1 L2111.0 844.6 L2112.0 845.0 L2113.0 845.5 L2114.0 846.0 L2115.0 846.5 L2116.0 847.0 L2117.0 847.5 L2118.0 848.0 L2119.0 848.5 L2120.0 848.9 L2121.0 849.4 L2122.0 849.9 L2123.0 850.4 L2124.0 850.9 L2125.0 851.4 L2126.0 851.9 L2127.0 852.4 L2128.0 852.8 L2129.0 853.3 L2130.0 853.8 L2131.0 854.3 L2132.0 854.8 L2133.0 855.3 L2134.0 855.8 L2135.0 856.3 L2136.0 856.8 L2137.0 857.2 L2138.0 857.7 L2139.0 858.2 L2140.0 858.7 L2141.0 859.2 L2142.0 859.7 L2143.0 860.2 L2144.0 860.7 L2145.0 861.2 L2146.0 861.7 L2147.0 862.2 L2148.0 862.7 L2149.0 863.2 L2150.0 863.7 L2151.0 864.2 L2152.0 864.7 L2153.0 865.2 L2154.0 865.6 L2155.0 866.1 L2156.0 866.6 L2157.0 867.1 L2158.0 867.6 L2159.0 868.1 L2160.0 868.6 L2161.0 869.1 L2162.0 869.6 L2163.0 870.1 L2164.0 870.6 L2165.0 871.1 L2166.0 871.6 L2167.0 872.1 L2168.0 872.6 L2169.0 873.0 L2170.0 873.5 L2171.0 874.0 L2172.0 874.5 L2173.0 875.0 L2174.0 875.5 L2175.0 876.0 L2176.0 876.5 L2177.0 876.9 L2178.0 877.4 L2179.0 877.9 L2180.0 878.4 L2181.0 878.9 L2182.0 879.3 L2183.0 879.8 L2184.0 880.3 L2185.0 880.8 L2186.0 881.2 L2187.0 881.7 L2188.0 882.2 L2189.0 882.6 L2190.0 883.1 L2191.0 883.6 L2192.0 884.0 L2193.0 884.5 L2194.0 885.0 L2195.0 885.4 L2196.0 885.9 L2197.0 886.3 L2198.0 886.8 L2199.0 887.2 L2200.0 887.7 L2201.0 888.1 L2202.0 888.6 L2203.0 889.0 L2204.0 889.4 L2205.0 889.9 L2206.0 890.3 L2207.0 890.7 L2208.0 891.2 L2209.0 891.6 L2210.0 892.0 L2211.0 892.4 L2212.0 892.9 L2213.0 893.3 L2214.0 893.7 L2215.0 894.1 L2216.0 894.5 L2217.0 894.9 L2218.0 895.3 L2219.0 895.7 L2220.0 896.1 L2221.0 896.5 L2222.0 896.9 L2223.0 897.3 L2224.0 897.7 L2225.0 898.1 L2226.0 898.5 L2227.0 898.8 L2228.0 899.2 L2229.0 899.6 L2230.0 899.9 L2231.0 900.3 L2232.0 900.7 L2233.0 901.0 L2234.0 901.4 L2235.0 901.7 L2236.0 902.1 L2237.0 902.4 L2238.0 902.8 L2239.0 903.1 L2240.0 903.4 L2241.0 903.8 L2242.0 904.1 L2243.0 904.4 L2244.0 904.7 L2245.0 905.0 L2246.0 905.3 L2247.0 905.7 L2248.0 906.0 L2249.0 906.2 L2250.0 906.5 L2251.0 906.8 L2252.0 907.1 L2253.0 907.4 L2254.0 907.7 L2255.0 907.9 L2256.0 908.2 L2257.0 908.5 L2258.0 908.7 L2259.0 909.0 L2260.0 909.2 L2261.0 909.5 L2262.0 909.7 L2263.0 910.0 L2264.0 910.2 L2265.0 910.4 L2266.0 910.6 L2267.0 910.8 L2268.0 911.1 L2269.0 911.3 L2270.0 911.5 L2271.0 911.7 L2272.0 911.8 L2273.0 912.0 L2274.0 912.2 L2275.0 912.4 L2276.0 912.6 L2277.0 912.7 L2278.0 912.9 L2279.0 913.0 L2280.0 913.2 L2281.0 913.3 L2282.0 913.5 L2283.0 913.6 L2284.0 913.7 L2285.0 913.8 L2286.0 914.0 L2287.0 914.1 L2288.0 914.2 L2289.0 914.3 L2290.0 914.4 L2291.0 914.5 L2292.0 914.5 L2293.0 914.6 L2294.0 914.7 L2295.0 914.7 L2296.0 914.8"/>
<path class="c" stroke="#00bfbf" d="M1353.0 93.0 L1354.0 93.7 L1355.0 94.5 L1356.0 95.2 L1357.0 95.9 L1358.0 96.7 L1359.0 97.4 L1360.0 98.2 L1361.0 98.9 L1362.0 99.7 L1363.0 100.4 L1364.0 101.2 L1365.0 102.0 L1366.0 102.7 L1367.0 103.5 L1368.0 104.3 L1369.0 105.1 L1370.0 105.9 L1371.0 106.6 L1372.0 107.4 L1373.0 108.2 L1374.0 109.0 L1375.0 109.8 L1376.0 110.6 L1377.0 111.4 L1378.0 112.2 L1379.0 113.0 L1380.0 113.8 L1381.0 114.7 L1382.0 115.5 L1383.0 116.3 L1384.0 117.1 L1385.0 117.9 L1386.0 118.7 L1387.0 119.6 L1388.0 120.4 L1389.0 121.2 L1390.0 122.0 L1391.0 122.9 L1392.0 123.7 L1393.0 124.5 L1394.0 125.4 L1395.0 126.2 L1396.0 127.0 L1397.0 127.9 L1398.0 128.7 L1399.0 129.5 L1400.0 130.4 L1401.0 131.2 L1402.0 132.1 L1403.0 132.9 L1404.0 133.7 L1405.0 134.6 L1406.0 135.4 L1407.0 136.3 L1408.0 137.1 L1409.0 137.9 L1410.0 138.8 L1411.0 139.6 L1412.0 140.5 L1413.0 141.3 L1414.0 142.2 L1415.0 143.0 L1416.0 143.8 L1417.0 144.7 L1418.0 145.5 L1419.0 146.4 L1420.0 147.2 L1421.0 148.0 L1422.0 148.9 L1423.0 149.7 L1424.0 150.5 L1425.0 151.4 L1426.0 152.2 L1427.0 153.0 L1428.0 153.9 L1429.0 154.7 L1430.0 155.5 L1431.0 156.4 L1432.0 157.2 L1433.0 158.0 L1434.0 158.8 L1435.0 159.6 L1436.0 160.5 L1437.0 161.3 L1438.0 162.1 L1439.0 162.9 L1440.0 163.7 L1441.0 164.5 L1442.0 165.3 L1443.0 166.1 L1444.0 166.9 L1445.0 167.7 L1446.0 168.5 L1447.0 169.3 L1448.0 170.1 L1449.0 170.9 L1450.0 171.7 L1451.0 172.5 L1452.0 173.3 L1453.0 174.1 L1454.0 174.9 L1455.0 175.6 L1456.0 176.4 L1457.0 177.2 L1458.0 178.0 L1459.0 178.8 L1460.0 179.6 L1461.0 180.3 L1462.0 181.1 L1463.0 181.9 L1464.0 182.6 L1465.0 183.4 L1466.0 184.2 L1467.0 185.0 L1468.0 185.7 L1469.0 186.5 L1470.0 187.3 L1471.0 188.0 L1472.0 188.8 L1473.0 189.5 L1474.0 190.3 L1475.0 191.1 L1476.0 191.8 L1477.0 192.6 L1478.0 193.3 L1479.0 194.1 L1480.0 194.9 L1481.0 195.6 L1482.0 196.4 L1483.0 197.1 L1484.0 197.9 L1485.0 198.6 L1486.0 199.4 L1487.0 200.1 L1488.0 200.9 L1489.0 201.6 L1490.0 202.4 L1491.0 203.1 L1492.0 203.9 L1493.0 204.6 L1494.0 205.3 L1495.0 206.1 L1496.0 206.8 L1497.0 207.6 L1498.0 208.3 L1499.0 209.1 L1500.0 209.8 L1501.0 210.5 L1502.0 211.3 L1503.0 212.0 L1504.0 212.8 L1505.0 213.5 L1506.0 214.2 L1507.0 215.0 L1508.0 215.7 L1509.0 216.5 L1510.0 217.2 L1511.0 217.9 L1512.0 218.7 L1513.0 219.4 L1514.0 220.1 L1515.0 220.9 L1516.0 221.6 L1517.0 222.4 L1518.0 223.1 L1519.0 223.8 L1520.0 224.6 L1521.0 225.3 L1522.0 226.0 L1523.0 226.8 L1524.0 227.5 L1525.0 228.2 L1526.0 228.9 L1527.0 229.7 L1528.0 230.4 L1529.0 231.1 L1530.0 231.9 L1531.0 232.6 L1532.0 233.3 L1533.0 234.0 L1534.0 234.8 L1535.0 235.5 L1536.0 236.2 L1537.0 237.0 L1538.0 237.7 L1539.0 238.4 L1540.0 239.1 L1541.0 239.9 L1542.0 240.6 L1543.0 241.3 L1544.0 242.0 L1545.0 242.7 L1546.0 243.5 L1547.0 244.2 L1548.0 244.9 L1549.0 245.6 L1550.0 246.3 L1551.0 247.1 L1552.0 247.8 L1553.0 248.5 L1554.0 249.2 L1555.0 249.9 L1556.0 250.7 L1557.0 251.4 L1558.0 252.1 L1559.0 252.8 L1560.0 253.5 L1561.0 254.2 L1562.0 254.9 L1563.0 255.7 L1564.0 256.4 L1565.0 257.1 L1566.0 257.8 L1567.0 258.5 L1568.0 259.2 L1569.0 259.9 L1570.0 260.6 L1571.0 261.3 L1572.0 262.1 L1573.0 262.8 L1574.0 263.5 L1575.0 264.2 L1576.0 264.9 L1577.0 265.6 L1578.0 266.3 L1579.0 267.0 L1580.0 267.7 L1581.0 268.4 L1582.0 269.1 L1583.0 269.8 L1584.0 270.5 L1585.0 271.2 L1586.0 271.9 L1587.0 272.6 L1588.0 273.3 L1589.0 274.0 L1590.0 274.7 L1591.0 275.4 L1592.0 276.1 L1593.0 276.8 L1594.0 277.5 L1595.0 278.2 L1596.0 278.9 L1597.0 279.6 L1598.0 280.3 L1599.0 281.0 L1600.0 281.7 L1601.0 282.4 L1602.0 283.1 L1603.0 283.8 L1604.0 284.4 L1605.0 285.1 L1606.0 285.8 L1607.0 286.5 L1608.0 287.2 L1609.0 287.9 L1610.0 288.6 L1611.0 289.3 L1612.0 290.0 L1613.0 290.6 L1614.0 291.3 L1615.0 292.0 L1616.0 292.7 L1617.0 293.4 L1618.0 294.1 L1619.0 294.8 L1620.0 295.4 L1621.0 296.1 L1622.0 296.8 L1623.0 297.5 L1624.0 298.2 L1625.0 298.8 L1626.0 299.5 L1627.0 300.2 L1628.0 300.9 L1629.0 301.6 L1630.0 302.2 L1631.0 302.9 L1632.0 303.6 L1633.0 304.3 L1634.0 304.9 L1635.0 305.6 L1636.0 306.3 L1637.0 307.0 L1638.0 307.6 L1639.0 308.3 L1640.0 309.0 L1641.0 309.6 L1642.0 310.3 L1643.0 311.0 L1644.0 311.6 L1645.0 312.3 L1646.0 313.0 L1647.0 313.6 L1648.0 314.3 L1649.0 315.0 L1650.0 315.6 L1651.0 316.3 L1652.0 317.0 L1653.0 317.6 L1654.0 318.3 L1655.0 319.0 L1656.0 319.6 L1657.0 320.3 L1658.0 320.9 L1659.0 321.6 L1660.0 322.3 L1661.0 322.9 L1662.0 323.6 L1663.0 324.2 L1664.0 324.9 L1665.0 325.5 L1666.0 326.2 L1667.0 326.9 L1668.0 327.5 L1669.0 328.2 L1670.0 328.8 L1671.0 329.5 L1672.0 330.1 L1673.0 330.8 L1674.0 331.4 L1675.0 332.1 L1676.0 332.7 L1677.0 333.4 L1678.0 334.0 L1679.0 334.7 L1680.0 335.3 L1681.0 335.9 L1682.0 336.6 L1683.0 337.2 L1684.0 337.9 L1685.0 338.5 L1686.0 339.2 L1687.0 339.8 L1688.0 340.4 L1689.0 341.1 L1690.0 341.7 L1691.0 342.4 L1692.0 343.0 L1693.0 343.6 L1694.0 344.3 L1695.0 344.9 L1696.0 345.5 L1697.0 346.2 L1698.0 346.8 L1699.0 347.4 L1700.0 348.1 L1701.0 348.7 L1702.0 349.3 L1703.0 349.9 L1704.0 350.6 L1705.0 351.2 L1706.0 351.8 L1707.0 352.5 L1708.0 353.1 L1709.0 353.7 L1710.0 354.3 L1711.0 355.0 L1712.0 355.6 L1713.0 356.2 L1714.0 356.8 L1715.0 357.4 L1716.0 358.1 L1717.0 358.7 L1718.0 359.3 L1719.0 359.9 L1720.0 360.5 L1721.0 361.1 L1722.0 361.7 L1723.0 362.4 L1724.0 363.0 L1725.0 363.6 L1726.0 364.2 L1727.0 364.8 L1728.0 365.4 L1729.0 366.0 L1730.0 366.6 L1731.0 367.2 L1732.0 367.8 L1733.0 368.4 L1734.0 369.0 L1735.0 369.7 L1736.0 370.3 L1737.0 370.9 L1738.0 371.5 L1739.0 372.1 L1740.0 372.7 L1741.0 373.2 L1742.0 373.8 L1743.0 374.4 L1744.0 375.0 L1745.0 375.6 L1746.0 376.2 L1747.0 376.8 L1748.0 377.4 L1749.0 378.0 L1750.0 378.6 L1751.0 379.2 L1752.0 379.8 L1753.0 380.3 L1754.0 380.9 L1755.0 381.5 L1756.0 382.1 L1757.0 382.7 L1758.0 383.3 L1759.0 383.8 L1760.0 384.4 L1761.0 385.0 L1762.0 385.6 L1763.0 386.2 L1764.0 386.7 L1765.0 387.3 L1766.0 387.9 L1767.0 388.5 L1768.0 389.0 L1769.0 389.6 L1770.0 390.2 L1771.0 390.7 L1772.0 391.3 L1773.0 391.9 L1774.0 392.4 L1775.0 393.0 L1776.0 393.6 L1777.0 394.1 L1778.0 394.7 L1779.0 395.2 L1780.0 395.8 L1781.0 396.4 L1782.0 396.9 L1783.0 397.5 L1784.0 398.0 L1785.0 398.6 L1786.0 399.1 L1787.0 399.7 L1788.0 400.2 L1789.0 400.8 L1790.0 401.3 L1791.0 401.9 L1792.0 402.4 L1793.0 403.0 L1794.0 403.5 L1795.0 404.1 L1796.0 404.6 L1797.0 405.2 L1798.0 405.7 L1799.0 406.3 L1800.0 406.8 L1801.0 407.3 L1802.0 407.9 L1803.0 408.4 L1804.0 408.9 L1805.0 409.5 L1806.0 410.0 L1807.0 410.6 L1808.0 411.1 L1809.0 411.6 L1810.0 412.2 L1811.0 412.7 L1812.0 413.2 L1813.0 413.7 L1814.0 414.3 L1815.0 414.8 L1816.0 415.3 L1817.0 415.9 L1818.0 416.4 L1819.0 416.9 L1820.0 417.4 L1821.0 418.0 L1822.0 418.5 L1823.0 419.0 L1824.0 419.5 L1825.0 420.1 L1826.0 420.6 L1827.0 421.1 L1828.0 421.6 L1829.0 422.2 L1830.0 422.7 L1831.0 423.2 L1832.0 423.7 L1833.0 424.2 L1834.0 424.8 L1835.0 425.3 L1836.0 425.8 L1837.0 426.3 L1838.0 426.8 L1839.0 427.3 L1840.0 427.9 L1841.0 428.4 L1842.0 428.9 L1843.0 429.4 L1844.0 429.9 L1845.0 430.4 L1846.0 430.9 L1847.0 431.5 L1848.0 432.0 L1849.0 432.5 L1850.0 433.0 L1851.0 433.5 L1852.0 434.0 L1853.0 434.5 L1854.0 435.0 L1855.0 435.6 L1856.0 436.1 L1857.0 436.6 L1858.0 437.1 L1859.0 437.6 L1860.0 438.1 L1861.0 438.6 L1862.0 439.1 L1863.0 439.6 L1864.0 440.2 L1865.0 440.7 L1866.0 441.2 L1867.0 441.7 L1868.0 442.2 L1869.0 442.7 L1870.0 443.2 L1871.0 443.7 L1872.0 444.2 L1873.0 444.7 L1874.0 445.3 L1875.0 445.8 L1876.0 446.3 L1877.0 446.8 L1878.0 447.3 L1879.0 447.8 L1880.0 448.3 L1881.0 448.8 L1882.0 449.3 L1883.0 449.8 L1884.0 450.4 L1885.0 450.9 L1886.0 451.4 L1887.0 451.9 L1888.0 452.4 L1889.0 452.9 L1890.0 453.4 L1891.0 453.9 L1892.0 454.4 L1893.0 455.0 L1894.0 455.5 L1895.0 456.0 L1896.0 456.5 L1897.0 457.0 L1898.0 457.5 L1899.0 458.0 L1900.0 458.6 L1901.0 459.1 L1902.0 459.6 L1903.0 460.1 L1904.0 460.6 L1905.0 461.1 L1906.0 461.6 L1907.0 462.2 L1908.0 462.7 L1909.0 463.2 L1910.0 463.7 L1911.0 464.2 L1912.0 464.8 L1913.0 465.3 L1914.0 465.8 L1915.0 466.3 L1916.0 466.8 L1917.0 467.4 L1918.0 467.9 L1919.0 468.4 L1920.0 468.9 L1921.0 469.4 L1922.0 470.0 L1923.0 470.5 L1924.0 471.0 L1925.0 471.5 L1926.0 472.1 L1927.0 472.6 L1928.0 473.1 L1929.0 473.7 L1930.0 474.2 L1931.0 474.7 L1932.0 475.2 L1933.0 475.8 L1934.0 476.3 L1935.0 476.8 L1936.0 477.4 L1937.0 477.9 L1938.0 478.4 L1939.0 479.0 L1940.0 479.5 L1941.0 480.1 L1942.0 480.6 L1943.0 481.1 L1944.0 481.7 L1945.0 482.2 L1946.0 482.8 L1947.0 483.3 L1948.0 483.8 L1949.0 484.4 L1950.0 484.9 L1951.0 485.5 L1952.0 486.0 L1953.0 486.6 L1954.0 487.1 L1955.0 487.7 L1956.0 488.2 L1957.0 488.8 L1958.0 489.3 L1959.0 489.9 L1960.0 490.4 L1961.0 491.0 L1962.0 491.5 L1963.0 492.1 L1964.0 492.6 L1965.0 493.2 L1966.0 493.7 L1967.0 494.3 L1968.0 494.8 L1969.0 495.4 L1970.0 496.0 L1971.0 496.5 L1972.0 497.1 L1973.0 497.6 L1974.0 498.2 L1975.0 498.8 L1976.0 499.3 L1977.0 499.9 L1978.0 500.4 L1979.0 501.0 L1980.0 501.6 L1981.0 502.1 L1982.0 502.7 L1983.0 503.3 L1984.0 503.8 L1985.0 504.4 L1986.0 505.0 L1987.0 505.5 L1988.0 506.1 L1989.0 506.7 L1990.0 507.2 L1991.0 507.8 L1992.0 508.4 L1993.0 508.9 L1994.0 509.5 L1995.0 510.1 L1996.0 510.7 L1997.0 511.2 L1998.0 511.8 L1999.0 512.4 L2000.0 512.9 L2001.0 513.5 L2002.0 514.1 L2003.0 514.7 L2004.0 515.2 L2005.0 515.8 L2006.0 516.4 L2007.0 517.0 L2008.0 517.5 L2009.0 518.1 L2010.0 518.7 L2011.0 519.3 L2012.0 519.8 L2013.0 520.4 L2014.0 521.0 L2015.0 521.6 L2016.0 522.1 L2017.0 522.7 L2018.0 523.3 L2019.0 523.9 L2020.0 524.4 L2021.0 525.0 L2022.0 525.6 L2023.0 526.2 L2024.0 526.7 L2025.0 527.3 L2026.0 527.9 L2027.0 528.5 L2028.0 529.1 L2029.0 529.6 L2030.0 530.2 L2031.0 530.8 L2032.0 531.4 L2033.0 531.9 L2034.0 532.5 L2035.0 533.1 L2036.0 533.7 L2037.0 534.3 L2038.0 534.8 L2039.0 535.4 L2040.0 536.0 L2041.0 536.6 L2042.0 537.1 L2043.0 537.7 L2044.0 538.3 L2045.0 538.9 L2046.0 539.5 L2047.0 540.0 L2048.0 540.6 L2049.0 541.2 L2050.0 541.8 L2051.0 542.3 L2052.0 542.9 L2053.0 543.5 L2054.0 544.1 L2055.0 544.6 L2056.0 545.2 L2057.0 545.8 L2058.0 546.4 L2059.0 546.9 L2060.0 547.5 L2061.0 548.1 L2062.0 548.7 L2063.0 549.2 L2064.0 549.8 L2065.0 550.4 L2066.0 551.0 L2067.0 551.5 L2068.0 552.1 L2069.0 552.7 L2070.0 553.3 L2071.0 553.8 L2072.0 554.4 L2073.0 555.0 L2074.0 555.5 L2075.0 556.1 L2076.0 556.7 L2077.0 557.3 L2078.0 557.8 L2079.0 558.4 L2080.0 559.0 L2081.0 559.5 L2082.0 560.1 L2083.0 560.7 L2084.0 561.2 L2085.0 561.8 L2086.0 562.4 L2087.0 562.9 L2088.0 563.5 L2089.0 564.1 L2090.0 564.6 L2091.0 565.2 L2092.0 565.8 L2093.0 566.3 L2094.0 566.9 L2095.0 567.5 L2096.0 568.0 L2097.0 568.6 L2098.0 569.1 L2099.0 569.7 L2100.0 570.3 L2101.0 570.8 L2102.0 571.4 L2103.0 572.0 L2104.0 572.5 L2105.0 573.1 L2106.0 573.6 L2107.0 574.2 L2108.0 574.7 L2109.0 575.3 L2110.0 575.9 L2111.0 576.4 L2112.0 577.0 L2113.0 577.5 L2114.0 578.1 L2115.0 578.6 L2116.0 579.2 L2117.0 579.7 L2118.0 580.3 L2119.0 580.8 L2120.0 581.4 L2121.0 581.9 L2122.0 582.5 L2123.0 583.0 L2124.0 583.6 L2125.0 584.1 L2126.0 584.7 L2127.0 585.2 L2128.0 585.8 L2129.0 586.3 L2130.0 586.9 L2131.0 587.4 L2132.0 588.0 L2133.0 588.5 L2134.0 589.1 L2135.0 589.6 L2136.0 590.1 L2137.0 590.7 L2138.0 591.2 L2139.0 591.8 L2140.0 592.3 L2141.0 592.8 L2142.0 593.4 L2143.0 593.9 L2144.0 594.5 L2145.0 595.0 L2146.0 595.5 L2147.0 596.1 L2148.0 596.6 L2149.0 597.1 L2150.0 597.7 L2151.0 598.2 L2152.0 598.7 L2153.0 599.3 L2154.0 599.8 L2155.0 600.3 L2156.0 600.8 L2157.0 601.4 L2158.0 601.9 L2159.0 602.4 L2160.0 602.9 L2161.0 603.5 L2162.0 604.0 L2163.0 604.5 L2164.0 605.0 L2165.0 605.6 L2166.0 606.1 L2167.0 606.6 L2168.0 607.1 L2169.0 607.6 L2170.0 608.2 L2171.0 608.7 L2172.0 609.2 L2173.0 609.7 L2174.0 610.2 L2175.0 610.7 L2176.0 611.3 L2177.0 611.8 L2178.0 612.3 L2179.0 612.8 L2180.0 613.3 L2181.0 613.8 L2182.0 614.3 L2183.0 614.8 L2184.0 615.3 L2185.0 615.8 L2186.0 616.3 L2187.0 616.8 L2188.0 617.3 L2189.0 617.8 L2190.0 618.3 L2191.0 618.8 L2192.0 619.3 L2193.0 619.8 L2194.0 620.3 L2195.0 620.8 L2196.0 621.3 L2197.0 621.8 L2198.0 622.3 L2199.0 622.8 L2200.0 623.3 L2201.0 623.8 L2202.0 624.3 L2203.0 624.8 L2204.0 625.3 L2205.0 625.8 L2206.0 626.3 L2207.0 626.8 L2208.0 627.2 L2209.0 627.7 L2210.0 628.2 L2211.0 628.7 L2212.0 629.2 L2213.0 629.7 L2214.0 630.2 L2215.0 630.7 L2216.0 631.1 L2217.0 631.6 L2218.0 632.1 L2219.0 632.6 L2220.0 633.1 L2221.0 633.6 L2222.0 634.1 L2223.0 634.5 L2224.0 635.0 L2225.0 635.5 L2226.0 636.0 L2227.0 636.5 L2228.0 637.0 L2229.0 637.5 L2230.0 638.0 L2231.0 638.4 L2232.0 638.9 L2233.0 639.4 L2234.0 639.9 L2235.0 640.4 L2236.0 640.9 L2237.0 641.4 L2238.0 641.9 L2239.0 642.4 L2240.0 642.8 L2241.0 643.3 L2242.0 643.8 L2243.0 644.3 L2244.0 644.8 L2245.0 645.3 L2246.0 645.8 L2247.0 646.3 L2248.0 646.8 L2249.0 647.3 L2250.0 647.8 L2251.0 648.3 L2252.0 648.8 L2253.0 649.3 L2254.0 649.8 L2255.0 650.3 L2256.0 650.8 L2257.0 651.3 L2258.0 651.8 L2259.0 652.3 L2260.0 652.8 L2261.0 653.3 L2262.0 653.8 L2263.0 654.3 L2264.0 654.8 L2265.0 655.4 L2266.0 655.9 L2267.0 656.4 L2268.0 656.9 L2269.0 657.4 L2270.0 657.9 L2271.0 658.5 L2272.0 659.0 L2273.0 659.5 L2274.0 660.0 L2275.0 660.6 L2276.0 661.1 L2277.0 661.6 L2278.0 662.1 L2279.0 662.7 L2280.0 663.2 L2281.0 663.7 L2282.0 664.3 L2283.0 664.8 L2284.0 665.4 L2285.0 665.9 L2286.0 666.4 L2287.0 667.0 L2288.0 667.5 L2289.0 668.1 L2290.0 668.6 L2291.0 669.2 L2292.0 669.8 L2293.0 670.3 L2294.0 670.9 L2295.0 671.4 L2296.0 672.0"/>
</g>
<path class="t" d="M1353.0 1037 V1017 M1353.0 93 V113 M1541.4 1037 V1017 M1541.4 93 V113 M1729.8 1037 V1017 M1729.8 93 V113 M1918.2 1037 V1017 M1918.2 93 V113 M2106.6 1037 V1017 M2106.6 93 V113 M2295.0 1037 V1017 M2295.0 93 V113 M1353 1037.0 H1373 M2295 1037.0 H2275 M1353 879.7 H1373 M2295 879.7 H2275 M1353 722.3 H1373 M2295 722.3 H2275 M1353 565.0 H1373 M2295 565.0 H2275 M1353 407.7 H1373 M2295 407.7 H2275 M1353 250.3 H1373 M2295 250.3 H2275 M1353 93.0 H1373 M2295 93.0 H2275"/>
<rect class="sp" x="1353" y="93" width="942" height="944"/>
<text class="tk" x="1353.0" y="1101.0" text-anchor="middle">0</text>
<text class="tk" x="1541.4" y="1101.0" text-anchor="middle">1</text>
<text class="tk" x="1729.8" y="1101.0" text-anchor="middle">2</text>
<text class="tk" x="1918.2" y="1101.0" text-anchor="middle">3</text>
<text class="tk" x="2106.6" y="1101.0" text-anchor="middle">4</text>
<text class="tk" x="2295.0" y="1101.0" text-anchor="middle">5</text>
<text class="tk" x="1334.0" y="1053.0" text-anchor="end">−0.2</text>
<text class="tk" x="1334.0" y="895.7" text-anchor="end">0.0</text>
<text class="tk" x="1334.0" y="738.3" text-anchor="end">0.2</text>
<text class="tk" x="1334.0" y="581.0" text-anchor="end">0.4</text>
<text class="tk" x="1334.0" y="423.7" text-anchor="end">0.6</text>
<text class="tk" x="1334.0" y="266.3" text-anchor="end">0.8</text>
<text class="tk" x="1334.0" y="109.0" text-anchor="end">1.0</text>
<text class="ttl" x="1824.0" y="68.7" text-anchor="middle">B</text>
<text class="tk lab" x="1824.0" y="1182.0" text-anchor="middle">lag time</text>
<text class="tk lab" transform="translate(1228.0 565.3) rotate(-90)" text-anchor="middle">ACF</text>
</g>
<g>
<rect x="738" y="117" width="394" height="322.5" fill="#ffffff" stroke="#000" stroke-width="6"/>
<path d="M769 159.0 H843" stroke="#0000ff" stroke-width="6" fill="none"/>
<text class="dso" font-size="43.85" transform="translate(889.29 174.88) scale(1.1097 1)" >γ</text>
<text class="ds" font-size="32.71" transform="translate(923.43 181.90) scale(0.9214 1)" stroke="#000" stroke-width="0.9">⊥</text>
<text class="dse" font-size="43.27" transform="translate(961.98 174.56) scale(1.2701 1)" >=</text>
<text class="ls" font-size="49.84" transform="translate(1011.61 173.00) scale(0.9803 1)" stroke="#000" stroke-width="0.5">1</text>
<text class="ls" font-size="75.04" transform="translate(1038.90 185.27) scale(0.9736 1)" >/</text>
<text class="ls" font-size="49.84" transform="translate(1060.76 173.00) scale(0.9689 1)" stroke="#000" stroke-width="0.5">1</text>
<text class="ls" font-size="50.16" transform="translate(1085.07 173.11) scale(0.9893 1)" stroke="#000" stroke-width="0.5">6</text>
<path d="M769 236.8 H843" stroke="#008000" stroke-width="6" fill="none"/>
<text class="dso" font-size="43.85" transform="translate(889.29 252.88) scale(1.1097 1)" >γ</text>
<text class="ds" font-size="32.71" transform="translate(923.43 259.90) scale(0.9214 1)" stroke="#000" stroke-width="0.9">⊥</text>
<text class="dse" font-size="43.27" transform="translate(961.98 252.56) scale(1.2701 1)" >=</text>
<text class="ls" font-size="49.84" transform="translate(1011.61 251.00) scale(0.9803 1)" stroke="#000" stroke-width="0.5">1</text>
<text class="ls" font-size="75.04" transform="translate(1038.90 263.27) scale(0.9736 1)" >/</text>
<text class="ls" font-size="49.98" transform="translate(1061.07 251.00) scale(0.9512 1)" stroke="#000" stroke-width="0.5">4</text>
<path d="M769 313.0 H843" stroke="#ff0000" stroke-width="6" fill="none"/>
<text class="dso" font-size="43.85" transform="translate(889.29 329.88) scale(1.1097 1)" >γ</text>
<text class="ds" font-size="32.71" transform="translate(923.43 336.90) scale(0.9214 1)" stroke="#000" stroke-width="0.9">⊥</text>
<text class="dse" font-size="43.27" transform="translate(961.98 329.56) scale(1.2701 1)" >=</text>
<text class="ls" font-size="49.84" transform="translate(1011.61 328.00) scale(0.9803 1)" stroke="#000" stroke-width="0.5">1</text>
<path d="M769 388.8 H843" stroke="#00bfbf" stroke-width="6" fill="none"/>
<text class="dso" font-size="43.85" transform="translate(889.29 405.88) scale(1.1097 1)" >γ</text>
<text class="ds" font-size="32.71" transform="translate(923.43 412.90) scale(0.9214 1)" stroke="#000" stroke-width="0.9">⊥</text>
<text class="dse" font-size="43.27" transform="translate(961.98 405.56) scale(1.2701 1)" >=</text>
<text class="ls" font-size="49.98" transform="translate(1011.86 404.00) scale(0.9641 1)" stroke="#000" stroke-width="0.5">4</text>
</g>
</svg>
</body>
</html>
